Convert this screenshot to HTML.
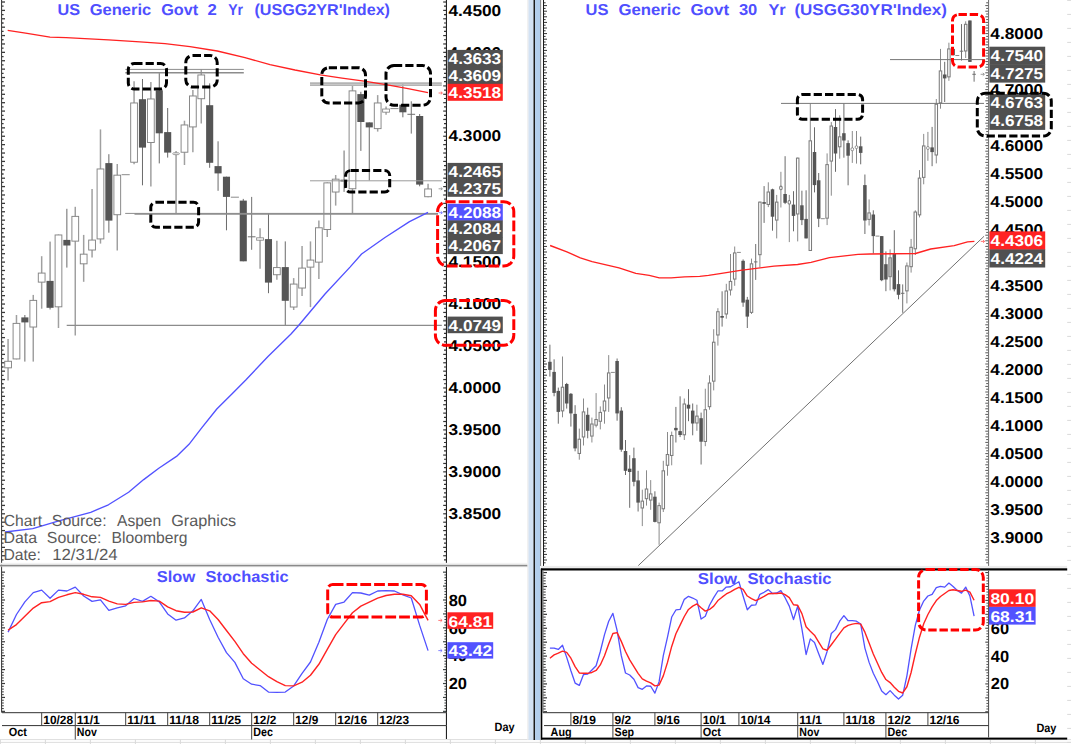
<!DOCTYPE html>
<html><head><meta charset="utf-8"><title>US Generic Govt 2 Yr / 30 Yr</title>
<style>html,body{margin:0;padding:0;background:#fff}svg{display:block}</style></head>
<body>
<svg width="1071" height="744" viewBox="0 0 1071 744" text-rendering="geometricPrecision" font-family="Liberation Sans, Arial, sans-serif">
<rect x="0" y="0" width="1071" height="744" fill="#ffffff" />
<line x1="0" y1="739.6" x2="1071" y2="739.6" stroke="#d9d9d9" stroke-width="0.9" />
<line x1="0" y1="742.4" x2="1071" y2="742.4" stroke="#d9d9d9" stroke-width="0.9" />
<line x1="0.4" y1="739.6" x2="0.4" y2="744" stroke="#d9d9d9" stroke-width="1" />
<line x1="45.4" y1="739.6" x2="45.4" y2="744" stroke="#d9d9d9" stroke-width="1" />
<line x1="90.4" y1="739.6" x2="90.4" y2="744" stroke="#d9d9d9" stroke-width="1" />
<line x1="135.4" y1="739.6" x2="135.4" y2="744" stroke="#d9d9d9" stroke-width="1" />
<line x1="180.4" y1="739.6" x2="180.4" y2="744" stroke="#d9d9d9" stroke-width="1" />
<line x1="225.4" y1="739.6" x2="225.4" y2="744" stroke="#d9d9d9" stroke-width="1" />
<line x1="270.4" y1="739.6" x2="270.4" y2="744" stroke="#d9d9d9" stroke-width="1" />
<line x1="315.4" y1="739.6" x2="315.4" y2="744" stroke="#d9d9d9" stroke-width="1" />
<line x1="360.4" y1="739.6" x2="360.4" y2="744" stroke="#d9d9d9" stroke-width="1" />
<line x1="405.4" y1="739.6" x2="405.4" y2="744" stroke="#d9d9d9" stroke-width="1" />
<line x1="450.4" y1="739.6" x2="450.4" y2="744" stroke="#d9d9d9" stroke-width="1" />
<line x1="495.4" y1="739.6" x2="495.4" y2="744" stroke="#d9d9d9" stroke-width="1" />
<line x1="540.4" y1="739.6" x2="540.4" y2="744" stroke="#d9d9d9" stroke-width="1" />
<line x1="585.4" y1="739.6" x2="585.4" y2="744" stroke="#d9d9d9" stroke-width="1" />
<line x1="630.4" y1="739.6" x2="630.4" y2="744" stroke="#d9d9d9" stroke-width="1" />
<line x1="675.4" y1="739.6" x2="675.4" y2="744" stroke="#d9d9d9" stroke-width="1" />
<line x1="720.4" y1="739.6" x2="720.4" y2="744" stroke="#d9d9d9" stroke-width="1" />
<line x1="765.4" y1="739.6" x2="765.4" y2="744" stroke="#d9d9d9" stroke-width="1" />
<line x1="810.4" y1="739.6" x2="810.4" y2="744" stroke="#d9d9d9" stroke-width="1" />
<line x1="855.4" y1="739.6" x2="855.4" y2="744" stroke="#d9d9d9" stroke-width="1" />
<line x1="900.4" y1="739.6" x2="900.4" y2="744" stroke="#d9d9d9" stroke-width="1" />
<line x1="945.4" y1="739.6" x2="945.4" y2="744" stroke="#d9d9d9" stroke-width="1" />
<line x1="990.4" y1="739.6" x2="990.4" y2="744" stroke="#d9d9d9" stroke-width="1" />
<line x1="1035.4" y1="739.6" x2="1035.4" y2="744" stroke="#d9d9d9" stroke-width="1" />
<line x1="1067.2" y1="0.4" x2="1071" y2="0.4" stroke="#d9d9d9" stroke-width="1" />
<line x1="1067.2" y1="14.4" x2="1071" y2="14.4" stroke="#d9d9d9" stroke-width="1" />
<line x1="1067.2" y1="28.4" x2="1071" y2="28.4" stroke="#d9d9d9" stroke-width="1" />
<line x1="1067.2" y1="42.4" x2="1071" y2="42.4" stroke="#d9d9d9" stroke-width="1" />
<line x1="1067.2" y1="56.4" x2="1071" y2="56.4" stroke="#d9d9d9" stroke-width="1" />
<line x1="1067.2" y1="70.4" x2="1071" y2="70.4" stroke="#d9d9d9" stroke-width="1" />
<line x1="1067.2" y1="84.4" x2="1071" y2="84.4" stroke="#d9d9d9" stroke-width="1" />
<line x1="1067.2" y1="98.4" x2="1071" y2="98.4" stroke="#d9d9d9" stroke-width="1" />
<line x1="1067.2" y1="112.4" x2="1071" y2="112.4" stroke="#d9d9d9" stroke-width="1" />
<line x1="1067.2" y1="126.4" x2="1071" y2="126.4" stroke="#d9d9d9" stroke-width="1" />
<line x1="1067.2" y1="140.4" x2="1071" y2="140.4" stroke="#d9d9d9" stroke-width="1" />
<line x1="1067.2" y1="154.4" x2="1071" y2="154.4" stroke="#d9d9d9" stroke-width="1" />
<line x1="1067.2" y1="168.4" x2="1071" y2="168.4" stroke="#d9d9d9" stroke-width="1" />
<line x1="1067.2" y1="182.4" x2="1071" y2="182.4" stroke="#d9d9d9" stroke-width="1" />
<line x1="1067.2" y1="196.4" x2="1071" y2="196.4" stroke="#d9d9d9" stroke-width="1" />
<line x1="1067.2" y1="210.4" x2="1071" y2="210.4" stroke="#d9d9d9" stroke-width="1" />
<line x1="1067.2" y1="224.4" x2="1071" y2="224.4" stroke="#d9d9d9" stroke-width="1" />
<line x1="1067.2" y1="238.4" x2="1071" y2="238.4" stroke="#d9d9d9" stroke-width="1" />
<line x1="1067.2" y1="252.4" x2="1071" y2="252.4" stroke="#d9d9d9" stroke-width="1" />
<line x1="1067.2" y1="266.4" x2="1071" y2="266.4" stroke="#d9d9d9" stroke-width="1" />
<line x1="1067.2" y1="280.4" x2="1071" y2="280.4" stroke="#d9d9d9" stroke-width="1" />
<line x1="1067.2" y1="294.4" x2="1071" y2="294.4" stroke="#d9d9d9" stroke-width="1" />
<line x1="1067.2" y1="308.4" x2="1071" y2="308.4" stroke="#d9d9d9" stroke-width="1" />
<line x1="1067.2" y1="322.4" x2="1071" y2="322.4" stroke="#d9d9d9" stroke-width="1" />
<line x1="1067.2" y1="336.4" x2="1071" y2="336.4" stroke="#d9d9d9" stroke-width="1" />
<line x1="1067.2" y1="350.4" x2="1071" y2="350.4" stroke="#d9d9d9" stroke-width="1" />
<line x1="1067.2" y1="364.4" x2="1071" y2="364.4" stroke="#d9d9d9" stroke-width="1" />
<line x1="1067.2" y1="378.4" x2="1071" y2="378.4" stroke="#d9d9d9" stroke-width="1" />
<line x1="1067.2" y1="392.4" x2="1071" y2="392.4" stroke="#d9d9d9" stroke-width="1" />
<line x1="1067.2" y1="406.4" x2="1071" y2="406.4" stroke="#d9d9d9" stroke-width="1" />
<line x1="1067.2" y1="420.4" x2="1071" y2="420.4" stroke="#d9d9d9" stroke-width="1" />
<line x1="1067.2" y1="434.4" x2="1071" y2="434.4" stroke="#d9d9d9" stroke-width="1" />
<line x1="1067.2" y1="448.4" x2="1071" y2="448.4" stroke="#d9d9d9" stroke-width="1" />
<line x1="1067.2" y1="462.4" x2="1071" y2="462.4" stroke="#d9d9d9" stroke-width="1" />
<line x1="1067.2" y1="476.4" x2="1071" y2="476.4" stroke="#d9d9d9" stroke-width="1" />
<line x1="1067.2" y1="490.4" x2="1071" y2="490.4" stroke="#d9d9d9" stroke-width="1" />
<line x1="1067.2" y1="504.4" x2="1071" y2="504.4" stroke="#d9d9d9" stroke-width="1" />
<line x1="1067.2" y1="518.4" x2="1071" y2="518.4" stroke="#d9d9d9" stroke-width="1" />
<line x1="1067.2" y1="532.4" x2="1071" y2="532.4" stroke="#d9d9d9" stroke-width="1" />
<line x1="1067.2" y1="546.4" x2="1071" y2="546.4" stroke="#d9d9d9" stroke-width="1" />
<line x1="1067.2" y1="560.4" x2="1071" y2="560.4" stroke="#d9d9d9" stroke-width="1" />
<line x1="1067.2" y1="574.4" x2="1071" y2="574.4" stroke="#d9d9d9" stroke-width="1" />
<line x1="1067.2" y1="588.4" x2="1071" y2="588.4" stroke="#d9d9d9" stroke-width="1" />
<line x1="1067.2" y1="602.4" x2="1071" y2="602.4" stroke="#d9d9d9" stroke-width="1" />
<line x1="1067.2" y1="616.4" x2="1071" y2="616.4" stroke="#d9d9d9" stroke-width="1" />
<line x1="1067.2" y1="630.4" x2="1071" y2="630.4" stroke="#d9d9d9" stroke-width="1" />
<line x1="1067.2" y1="644.4" x2="1071" y2="644.4" stroke="#d9d9d9" stroke-width="1" />
<line x1="1067.2" y1="658.4" x2="1071" y2="658.4" stroke="#d9d9d9" stroke-width="1" />
<line x1="1067.2" y1="672.4" x2="1071" y2="672.4" stroke="#d9d9d9" stroke-width="1" />
<line x1="1067.2" y1="686.4" x2="1071" y2="686.4" stroke="#d9d9d9" stroke-width="1" />
<line x1="1067.2" y1="700.4" x2="1071" y2="700.4" stroke="#d9d9d9" stroke-width="1" />
<line x1="1067.2" y1="714.4" x2="1071" y2="714.4" stroke="#d9d9d9" stroke-width="1" />
<line x1="1067.2" y1="728.4" x2="1071" y2="728.4" stroke="#d9d9d9" stroke-width="1" />
<line x1="1067.2" y1="742.4" x2="1071" y2="742.4" stroke="#d9d9d9" stroke-width="1" />
<rect x="527.3" y="0" width="1.3" height="740" fill="#ececec" />
<rect x="528.5" y="0" width="5" height="740" fill="#d3e2f3" />
<rect x="533.5" y="0" width="1.6" height="740" fill="#1a1a1a" />
<rect x="535.1" y="0" width="5.1" height="740" fill="#b2ceec" />
<rect x="540.2" y="0" width="0.9" height="566" fill="#777777" />
<rect x="1" y="0" width="1.1" height="712.6" fill="#444444" />
<line x1="2" y1="2.01" x2="5" y2="2.01" stroke="#3a3a3a" stroke-width="1.3" />
<line x1="443.2" y1="2.01" x2="446" y2="2.01" stroke="#333333" stroke-width="1.2" />
<line x1="2" y1="6.21" x2="3.6" y2="6.21" stroke="#3a3a3a" stroke-width="1.3" />
<line x1="444" y1="6.21" x2="446" y2="6.21" stroke="#333333" stroke-width="1.2" />
<line x1="2" y1="10.4" x2="5" y2="10.4" stroke="#3a3a3a" stroke-width="1.3" />
<line x1="443.2" y1="10.4" x2="446" y2="10.4" stroke="#333333" stroke-width="1.2" />
<line x1="2" y1="14.6" x2="3.6" y2="14.6" stroke="#3a3a3a" stroke-width="1.3" />
<line x1="444" y1="14.6" x2="446" y2="14.6" stroke="#333333" stroke-width="1.2" />
<line x1="2" y1="18.79" x2="5" y2="18.79" stroke="#3a3a3a" stroke-width="1.3" />
<line x1="443.2" y1="18.79" x2="446" y2="18.79" stroke="#333333" stroke-width="1.2" />
<line x1="2" y1="22.99" x2="3.6" y2="22.99" stroke="#3a3a3a" stroke-width="1.3" />
<line x1="444" y1="22.99" x2="446" y2="22.99" stroke="#333333" stroke-width="1.2" />
<line x1="2" y1="27.18" x2="5" y2="27.18" stroke="#3a3a3a" stroke-width="1.3" />
<line x1="443.2" y1="27.18" x2="446" y2="27.18" stroke="#333333" stroke-width="1.2" />
<line x1="2" y1="31.38" x2="3.6" y2="31.38" stroke="#3a3a3a" stroke-width="1.3" />
<line x1="444" y1="31.38" x2="446" y2="31.38" stroke="#333333" stroke-width="1.2" />
<line x1="2" y1="35.57" x2="5" y2="35.57" stroke="#3a3a3a" stroke-width="1.3" />
<line x1="443.2" y1="35.57" x2="446" y2="35.57" stroke="#333333" stroke-width="1.2" />
<line x1="2" y1="39.77" x2="3.6" y2="39.77" stroke="#3a3a3a" stroke-width="1.3" />
<line x1="444" y1="39.77" x2="446" y2="39.77" stroke="#333333" stroke-width="1.2" />
<line x1="2" y1="43.96" x2="5" y2="43.96" stroke="#3a3a3a" stroke-width="1.3" />
<line x1="443.2" y1="43.96" x2="446" y2="43.96" stroke="#333333" stroke-width="1.2" />
<line x1="2" y1="48.16" x2="3.6" y2="48.16" stroke="#3a3a3a" stroke-width="1.3" />
<line x1="444" y1="48.16" x2="446" y2="48.16" stroke="#333333" stroke-width="1.2" />
<line x1="2" y1="52.35" x2="5" y2="52.35" stroke="#3a3a3a" stroke-width="1.3" />
<line x1="443.2" y1="52.35" x2="446" y2="52.35" stroke="#333333" stroke-width="1.2" />
<line x1="2" y1="56.55" x2="3.6" y2="56.55" stroke="#3a3a3a" stroke-width="1.3" />
<line x1="444" y1="56.55" x2="446" y2="56.55" stroke="#333333" stroke-width="1.2" />
<line x1="2" y1="60.74" x2="5" y2="60.74" stroke="#3a3a3a" stroke-width="1.3" />
<line x1="443.2" y1="60.74" x2="446" y2="60.74" stroke="#333333" stroke-width="1.2" />
<line x1="2" y1="64.94" x2="3.6" y2="64.94" stroke="#3a3a3a" stroke-width="1.3" />
<line x1="444" y1="64.94" x2="446" y2="64.94" stroke="#333333" stroke-width="1.2" />
<line x1="2" y1="69.13" x2="5" y2="69.13" stroke="#3a3a3a" stroke-width="1.3" />
<line x1="443.2" y1="69.13" x2="446" y2="69.13" stroke="#333333" stroke-width="1.2" />
<line x1="2" y1="73.33" x2="3.6" y2="73.33" stroke="#3a3a3a" stroke-width="1.3" />
<line x1="444" y1="73.33" x2="446" y2="73.33" stroke="#333333" stroke-width="1.2" />
<line x1="2" y1="77.52" x2="5" y2="77.52" stroke="#3a3a3a" stroke-width="1.3" />
<line x1="443.2" y1="77.52" x2="446" y2="77.52" stroke="#333333" stroke-width="1.2" />
<line x1="2" y1="81.72" x2="3.6" y2="81.72" stroke="#3a3a3a" stroke-width="1.3" />
<line x1="444" y1="81.72" x2="446" y2="81.72" stroke="#333333" stroke-width="1.2" />
<line x1="2" y1="85.91" x2="5" y2="85.91" stroke="#3a3a3a" stroke-width="1.3" />
<line x1="443.2" y1="85.91" x2="446" y2="85.91" stroke="#333333" stroke-width="1.2" />
<line x1="2" y1="90.11" x2="3.6" y2="90.11" stroke="#3a3a3a" stroke-width="1.3" />
<line x1="444" y1="90.11" x2="446" y2="90.11" stroke="#333333" stroke-width="1.2" />
<line x1="2" y1="94.3" x2="5" y2="94.3" stroke="#3a3a3a" stroke-width="1.3" />
<line x1="443.2" y1="94.3" x2="446" y2="94.3" stroke="#333333" stroke-width="1.2" />
<line x1="2" y1="98.5" x2="3.6" y2="98.5" stroke="#3a3a3a" stroke-width="1.3" />
<line x1="444" y1="98.5" x2="446" y2="98.5" stroke="#333333" stroke-width="1.2" />
<line x1="2" y1="102.69" x2="5" y2="102.69" stroke="#3a3a3a" stroke-width="1.3" />
<line x1="443.2" y1="102.69" x2="446" y2="102.69" stroke="#333333" stroke-width="1.2" />
<line x1="2" y1="106.89" x2="3.6" y2="106.89" stroke="#3a3a3a" stroke-width="1.3" />
<line x1="444" y1="106.89" x2="446" y2="106.89" stroke="#333333" stroke-width="1.2" />
<line x1="2" y1="111.08" x2="5" y2="111.08" stroke="#3a3a3a" stroke-width="1.3" />
<line x1="443.2" y1="111.08" x2="446" y2="111.08" stroke="#333333" stroke-width="1.2" />
<line x1="2" y1="115.28" x2="3.6" y2="115.28" stroke="#3a3a3a" stroke-width="1.3" />
<line x1="444" y1="115.28" x2="446" y2="115.28" stroke="#333333" stroke-width="1.2" />
<line x1="2" y1="119.47" x2="5" y2="119.47" stroke="#3a3a3a" stroke-width="1.3" />
<line x1="443.2" y1="119.47" x2="446" y2="119.47" stroke="#333333" stroke-width="1.2" />
<line x1="2" y1="123.67" x2="3.6" y2="123.67" stroke="#3a3a3a" stroke-width="1.3" />
<line x1="444" y1="123.67" x2="446" y2="123.67" stroke="#333333" stroke-width="1.2" />
<line x1="2" y1="127.86" x2="5" y2="127.86" stroke="#3a3a3a" stroke-width="1.3" />
<line x1="443.2" y1="127.86" x2="446" y2="127.86" stroke="#333333" stroke-width="1.2" />
<line x1="2" y1="132.06" x2="3.6" y2="132.06" stroke="#3a3a3a" stroke-width="1.3" />
<line x1="444" y1="132.06" x2="446" y2="132.06" stroke="#333333" stroke-width="1.2" />
<line x1="2" y1="136.25" x2="5" y2="136.25" stroke="#3a3a3a" stroke-width="1.3" />
<line x1="443.2" y1="136.25" x2="446" y2="136.25" stroke="#333333" stroke-width="1.2" />
<line x1="2" y1="140.45" x2="3.6" y2="140.45" stroke="#3a3a3a" stroke-width="1.3" />
<line x1="444" y1="140.45" x2="446" y2="140.45" stroke="#333333" stroke-width="1.2" />
<line x1="2" y1="144.64" x2="5" y2="144.64" stroke="#3a3a3a" stroke-width="1.3" />
<line x1="443.2" y1="144.64" x2="446" y2="144.64" stroke="#333333" stroke-width="1.2" />
<line x1="2" y1="148.84" x2="3.6" y2="148.84" stroke="#3a3a3a" stroke-width="1.3" />
<line x1="444" y1="148.84" x2="446" y2="148.84" stroke="#333333" stroke-width="1.2" />
<line x1="2" y1="153.03" x2="5" y2="153.03" stroke="#3a3a3a" stroke-width="1.3" />
<line x1="443.2" y1="153.03" x2="446" y2="153.03" stroke="#333333" stroke-width="1.2" />
<line x1="2" y1="157.23" x2="3.6" y2="157.23" stroke="#3a3a3a" stroke-width="1.3" />
<line x1="444" y1="157.23" x2="446" y2="157.23" stroke="#333333" stroke-width="1.2" />
<line x1="2" y1="161.42" x2="5" y2="161.42" stroke="#3a3a3a" stroke-width="1.3" />
<line x1="443.2" y1="161.42" x2="446" y2="161.42" stroke="#333333" stroke-width="1.2" />
<line x1="2" y1="165.62" x2="3.6" y2="165.62" stroke="#3a3a3a" stroke-width="1.3" />
<line x1="444" y1="165.62" x2="446" y2="165.62" stroke="#333333" stroke-width="1.2" />
<line x1="2" y1="169.81" x2="5" y2="169.81" stroke="#3a3a3a" stroke-width="1.3" />
<line x1="443.2" y1="169.81" x2="446" y2="169.81" stroke="#333333" stroke-width="1.2" />
<line x1="2" y1="174.01" x2="3.6" y2="174.01" stroke="#3a3a3a" stroke-width="1.3" />
<line x1="444" y1="174.01" x2="446" y2="174.01" stroke="#333333" stroke-width="1.2" />
<line x1="2" y1="178.2" x2="5" y2="178.2" stroke="#3a3a3a" stroke-width="1.3" />
<line x1="443.2" y1="178.2" x2="446" y2="178.2" stroke="#333333" stroke-width="1.2" />
<line x1="2" y1="182.4" x2="3.6" y2="182.4" stroke="#3a3a3a" stroke-width="1.3" />
<line x1="444" y1="182.4" x2="446" y2="182.4" stroke="#333333" stroke-width="1.2" />
<line x1="2" y1="186.59" x2="5" y2="186.59" stroke="#3a3a3a" stroke-width="1.3" />
<line x1="443.2" y1="186.59" x2="446" y2="186.59" stroke="#333333" stroke-width="1.2" />
<line x1="2" y1="190.79" x2="3.6" y2="190.79" stroke="#3a3a3a" stroke-width="1.3" />
<line x1="444" y1="190.79" x2="446" y2="190.79" stroke="#333333" stroke-width="1.2" />
<line x1="2" y1="194.98" x2="5" y2="194.98" stroke="#3a3a3a" stroke-width="1.3" />
<line x1="443.2" y1="194.98" x2="446" y2="194.98" stroke="#333333" stroke-width="1.2" />
<line x1="2" y1="199.18" x2="3.6" y2="199.18" stroke="#3a3a3a" stroke-width="1.3" />
<line x1="444" y1="199.18" x2="446" y2="199.18" stroke="#333333" stroke-width="1.2" />
<line x1="2" y1="203.37" x2="5" y2="203.37" stroke="#3a3a3a" stroke-width="1.3" />
<line x1="443.2" y1="203.37" x2="446" y2="203.37" stroke="#333333" stroke-width="1.2" />
<line x1="2" y1="207.57" x2="3.6" y2="207.57" stroke="#3a3a3a" stroke-width="1.3" />
<line x1="444" y1="207.57" x2="446" y2="207.57" stroke="#333333" stroke-width="1.2" />
<line x1="2" y1="211.76" x2="5" y2="211.76" stroke="#3a3a3a" stroke-width="1.3" />
<line x1="443.2" y1="211.76" x2="446" y2="211.76" stroke="#333333" stroke-width="1.2" />
<line x1="2" y1="215.96" x2="3.6" y2="215.96" stroke="#3a3a3a" stroke-width="1.3" />
<line x1="444" y1="215.96" x2="446" y2="215.96" stroke="#333333" stroke-width="1.2" />
<line x1="2" y1="220.15" x2="5" y2="220.15" stroke="#3a3a3a" stroke-width="1.3" />
<line x1="443.2" y1="220.15" x2="446" y2="220.15" stroke="#333333" stroke-width="1.2" />
<line x1="2" y1="224.35" x2="3.6" y2="224.35" stroke="#3a3a3a" stroke-width="1.3" />
<line x1="444" y1="224.35" x2="446" y2="224.35" stroke="#333333" stroke-width="1.2" />
<line x1="2" y1="228.54" x2="5" y2="228.54" stroke="#3a3a3a" stroke-width="1.3" />
<line x1="443.2" y1="228.54" x2="446" y2="228.54" stroke="#333333" stroke-width="1.2" />
<line x1="2" y1="232.74" x2="3.6" y2="232.74" stroke="#3a3a3a" stroke-width="1.3" />
<line x1="444" y1="232.74" x2="446" y2="232.74" stroke="#333333" stroke-width="1.2" />
<line x1="2" y1="236.93" x2="5" y2="236.93" stroke="#3a3a3a" stroke-width="1.3" />
<line x1="443.2" y1="236.93" x2="446" y2="236.93" stroke="#333333" stroke-width="1.2" />
<line x1="2" y1="241.13" x2="3.6" y2="241.13" stroke="#3a3a3a" stroke-width="1.3" />
<line x1="444" y1="241.13" x2="446" y2="241.13" stroke="#333333" stroke-width="1.2" />
<line x1="2" y1="245.32" x2="5" y2="245.32" stroke="#3a3a3a" stroke-width="1.3" />
<line x1="443.2" y1="245.32" x2="446" y2="245.32" stroke="#333333" stroke-width="1.2" />
<line x1="2" y1="249.52" x2="3.6" y2="249.52" stroke="#3a3a3a" stroke-width="1.3" />
<line x1="444" y1="249.52" x2="446" y2="249.52" stroke="#333333" stroke-width="1.2" />
<line x1="2" y1="253.71" x2="5" y2="253.71" stroke="#3a3a3a" stroke-width="1.3" />
<line x1="443.2" y1="253.71" x2="446" y2="253.71" stroke="#333333" stroke-width="1.2" />
<line x1="2" y1="257.91" x2="3.6" y2="257.91" stroke="#3a3a3a" stroke-width="1.3" />
<line x1="444" y1="257.91" x2="446" y2="257.91" stroke="#333333" stroke-width="1.2" />
<line x1="2" y1="262.1" x2="5" y2="262.1" stroke="#3a3a3a" stroke-width="1.3" />
<line x1="443.2" y1="262.1" x2="446" y2="262.1" stroke="#333333" stroke-width="1.2" />
<line x1="2" y1="266.3" x2="3.6" y2="266.3" stroke="#3a3a3a" stroke-width="1.3" />
<line x1="444" y1="266.3" x2="446" y2="266.3" stroke="#333333" stroke-width="1.2" />
<line x1="2" y1="270.49" x2="5" y2="270.49" stroke="#3a3a3a" stroke-width="1.3" />
<line x1="443.2" y1="270.49" x2="446" y2="270.49" stroke="#333333" stroke-width="1.2" />
<line x1="2" y1="274.69" x2="3.6" y2="274.69" stroke="#3a3a3a" stroke-width="1.3" />
<line x1="444" y1="274.69" x2="446" y2="274.69" stroke="#333333" stroke-width="1.2" />
<line x1="2" y1="278.88" x2="5" y2="278.88" stroke="#3a3a3a" stroke-width="1.3" />
<line x1="443.2" y1="278.88" x2="446" y2="278.88" stroke="#333333" stroke-width="1.2" />
<line x1="2" y1="283.08" x2="3.6" y2="283.08" stroke="#3a3a3a" stroke-width="1.3" />
<line x1="444" y1="283.08" x2="446" y2="283.08" stroke="#333333" stroke-width="1.2" />
<line x1="2" y1="287.27" x2="5" y2="287.27" stroke="#3a3a3a" stroke-width="1.3" />
<line x1="443.2" y1="287.27" x2="446" y2="287.27" stroke="#333333" stroke-width="1.2" />
<line x1="2" y1="291.46" x2="3.6" y2="291.46" stroke="#3a3a3a" stroke-width="1.3" />
<line x1="444" y1="291.46" x2="446" y2="291.46" stroke="#333333" stroke-width="1.2" />
<line x1="2" y1="295.66" x2="5" y2="295.66" stroke="#3a3a3a" stroke-width="1.3" />
<line x1="443.2" y1="295.66" x2="446" y2="295.66" stroke="#333333" stroke-width="1.2" />
<line x1="2" y1="299.86" x2="3.6" y2="299.86" stroke="#3a3a3a" stroke-width="1.3" />
<line x1="444" y1="299.86" x2="446" y2="299.86" stroke="#333333" stroke-width="1.2" />
<line x1="2" y1="304.05" x2="5" y2="304.05" stroke="#3a3a3a" stroke-width="1.3" />
<line x1="443.2" y1="304.05" x2="446" y2="304.05" stroke="#333333" stroke-width="1.2" />
<line x1="2" y1="308.25" x2="3.6" y2="308.25" stroke="#3a3a3a" stroke-width="1.3" />
<line x1="444" y1="308.25" x2="446" y2="308.25" stroke="#333333" stroke-width="1.2" />
<line x1="2" y1="312.44" x2="5" y2="312.44" stroke="#3a3a3a" stroke-width="1.3" />
<line x1="443.2" y1="312.44" x2="446" y2="312.44" stroke="#333333" stroke-width="1.2" />
<line x1="2" y1="316.64" x2="3.6" y2="316.64" stroke="#3a3a3a" stroke-width="1.3" />
<line x1="444" y1="316.64" x2="446" y2="316.64" stroke="#333333" stroke-width="1.2" />
<line x1="2" y1="320.83" x2="5" y2="320.83" stroke="#3a3a3a" stroke-width="1.3" />
<line x1="443.2" y1="320.83" x2="446" y2="320.83" stroke="#333333" stroke-width="1.2" />
<line x1="2" y1="325.03" x2="3.6" y2="325.03" stroke="#3a3a3a" stroke-width="1.3" />
<line x1="444" y1="325.03" x2="446" y2="325.03" stroke="#333333" stroke-width="1.2" />
<line x1="2" y1="329.22" x2="5" y2="329.22" stroke="#3a3a3a" stroke-width="1.3" />
<line x1="443.2" y1="329.22" x2="446" y2="329.22" stroke="#333333" stroke-width="1.2" />
<line x1="2" y1="333.42" x2="3.6" y2="333.42" stroke="#3a3a3a" stroke-width="1.3" />
<line x1="444" y1="333.42" x2="446" y2="333.42" stroke="#333333" stroke-width="1.2" />
<line x1="2" y1="337.61" x2="5" y2="337.61" stroke="#3a3a3a" stroke-width="1.3" />
<line x1="443.2" y1="337.61" x2="446" y2="337.61" stroke="#333333" stroke-width="1.2" />
<line x1="2" y1="341.81" x2="3.6" y2="341.81" stroke="#3a3a3a" stroke-width="1.3" />
<line x1="444" y1="341.81" x2="446" y2="341.81" stroke="#333333" stroke-width="1.2" />
<line x1="2" y1="346" x2="5" y2="346" stroke="#3a3a3a" stroke-width="1.3" />
<line x1="443.2" y1="346" x2="446" y2="346" stroke="#333333" stroke-width="1.2" />
<line x1="2" y1="350.2" x2="3.6" y2="350.2" stroke="#3a3a3a" stroke-width="1.3" />
<line x1="444" y1="350.2" x2="446" y2="350.2" stroke="#333333" stroke-width="1.2" />
<line x1="2" y1="354.39" x2="5" y2="354.39" stroke="#3a3a3a" stroke-width="1.3" />
<line x1="443.2" y1="354.39" x2="446" y2="354.39" stroke="#333333" stroke-width="1.2" />
<line x1="2" y1="358.58" x2="3.6" y2="358.58" stroke="#3a3a3a" stroke-width="1.3" />
<line x1="444" y1="358.58" x2="446" y2="358.58" stroke="#333333" stroke-width="1.2" />
<line x1="2" y1="362.78" x2="5" y2="362.78" stroke="#3a3a3a" stroke-width="1.3" />
<line x1="443.2" y1="362.78" x2="446" y2="362.78" stroke="#333333" stroke-width="1.2" />
<line x1="2" y1="366.98" x2="3.6" y2="366.98" stroke="#3a3a3a" stroke-width="1.3" />
<line x1="444" y1="366.98" x2="446" y2="366.98" stroke="#333333" stroke-width="1.2" />
<line x1="2" y1="371.17" x2="5" y2="371.17" stroke="#3a3a3a" stroke-width="1.3" />
<line x1="443.2" y1="371.17" x2="446" y2="371.17" stroke="#333333" stroke-width="1.2" />
<line x1="2" y1="375.37" x2="3.6" y2="375.37" stroke="#3a3a3a" stroke-width="1.3" />
<line x1="444" y1="375.37" x2="446" y2="375.37" stroke="#333333" stroke-width="1.2" />
<line x1="2" y1="379.56" x2="5" y2="379.56" stroke="#3a3a3a" stroke-width="1.3" />
<line x1="443.2" y1="379.56" x2="446" y2="379.56" stroke="#333333" stroke-width="1.2" />
<line x1="2" y1="383.76" x2="3.6" y2="383.76" stroke="#3a3a3a" stroke-width="1.3" />
<line x1="444" y1="383.76" x2="446" y2="383.76" stroke="#333333" stroke-width="1.2" />
<line x1="2" y1="387.95" x2="5" y2="387.95" stroke="#3a3a3a" stroke-width="1.3" />
<line x1="443.2" y1="387.95" x2="446" y2="387.95" stroke="#333333" stroke-width="1.2" />
<line x1="2" y1="392.15" x2="3.6" y2="392.15" stroke="#3a3a3a" stroke-width="1.3" />
<line x1="444" y1="392.15" x2="446" y2="392.15" stroke="#333333" stroke-width="1.2" />
<line x1="2" y1="396.34" x2="5" y2="396.34" stroke="#3a3a3a" stroke-width="1.3" />
<line x1="443.2" y1="396.34" x2="446" y2="396.34" stroke="#333333" stroke-width="1.2" />
<line x1="2" y1="400.54" x2="3.6" y2="400.54" stroke="#3a3a3a" stroke-width="1.3" />
<line x1="444" y1="400.54" x2="446" y2="400.54" stroke="#333333" stroke-width="1.2" />
<line x1="2" y1="404.73" x2="5" y2="404.73" stroke="#3a3a3a" stroke-width="1.3" />
<line x1="443.2" y1="404.73" x2="446" y2="404.73" stroke="#333333" stroke-width="1.2" />
<line x1="2" y1="408.93" x2="3.6" y2="408.93" stroke="#3a3a3a" stroke-width="1.3" />
<line x1="444" y1="408.93" x2="446" y2="408.93" stroke="#333333" stroke-width="1.2" />
<line x1="2" y1="413.12" x2="5" y2="413.12" stroke="#3a3a3a" stroke-width="1.3" />
<line x1="443.2" y1="413.12" x2="446" y2="413.12" stroke="#333333" stroke-width="1.2" />
<line x1="2" y1="417.32" x2="3.6" y2="417.32" stroke="#3a3a3a" stroke-width="1.3" />
<line x1="444" y1="417.32" x2="446" y2="417.32" stroke="#333333" stroke-width="1.2" />
<line x1="2" y1="421.51" x2="5" y2="421.51" stroke="#3a3a3a" stroke-width="1.3" />
<line x1="443.2" y1="421.51" x2="446" y2="421.51" stroke="#333333" stroke-width="1.2" />
<line x1="2" y1="425.71" x2="3.6" y2="425.71" stroke="#3a3a3a" stroke-width="1.3" />
<line x1="444" y1="425.71" x2="446" y2="425.71" stroke="#333333" stroke-width="1.2" />
<line x1="2" y1="429.9" x2="5" y2="429.9" stroke="#3a3a3a" stroke-width="1.3" />
<line x1="443.2" y1="429.9" x2="446" y2="429.9" stroke="#333333" stroke-width="1.2" />
<line x1="2" y1="434.1" x2="3.6" y2="434.1" stroke="#3a3a3a" stroke-width="1.3" />
<line x1="444" y1="434.1" x2="446" y2="434.1" stroke="#333333" stroke-width="1.2" />
<line x1="2" y1="438.29" x2="5" y2="438.29" stroke="#3a3a3a" stroke-width="1.3" />
<line x1="443.2" y1="438.29" x2="446" y2="438.29" stroke="#333333" stroke-width="1.2" />
<line x1="2" y1="442.49" x2="3.6" y2="442.49" stroke="#3a3a3a" stroke-width="1.3" />
<line x1="444" y1="442.49" x2="446" y2="442.49" stroke="#333333" stroke-width="1.2" />
<line x1="2" y1="446.68" x2="5" y2="446.68" stroke="#3a3a3a" stroke-width="1.3" />
<line x1="443.2" y1="446.68" x2="446" y2="446.68" stroke="#333333" stroke-width="1.2" />
<line x1="2" y1="450.88" x2="3.6" y2="450.88" stroke="#3a3a3a" stroke-width="1.3" />
<line x1="444" y1="450.88" x2="446" y2="450.88" stroke="#333333" stroke-width="1.2" />
<line x1="2" y1="455.07" x2="5" y2="455.07" stroke="#3a3a3a" stroke-width="1.3" />
<line x1="443.2" y1="455.07" x2="446" y2="455.07" stroke="#333333" stroke-width="1.2" />
<line x1="2" y1="459.27" x2="3.6" y2="459.27" stroke="#3a3a3a" stroke-width="1.3" />
<line x1="444" y1="459.27" x2="446" y2="459.27" stroke="#333333" stroke-width="1.2" />
<line x1="2" y1="463.46" x2="5" y2="463.46" stroke="#3a3a3a" stroke-width="1.3" />
<line x1="443.2" y1="463.46" x2="446" y2="463.46" stroke="#333333" stroke-width="1.2" />
<line x1="2" y1="467.66" x2="3.6" y2="467.66" stroke="#3a3a3a" stroke-width="1.3" />
<line x1="444" y1="467.66" x2="446" y2="467.66" stroke="#333333" stroke-width="1.2" />
<line x1="2" y1="471.85" x2="5" y2="471.85" stroke="#3a3a3a" stroke-width="1.3" />
<line x1="443.2" y1="471.85" x2="446" y2="471.85" stroke="#333333" stroke-width="1.2" />
<line x1="2" y1="476.05" x2="3.6" y2="476.05" stroke="#3a3a3a" stroke-width="1.3" />
<line x1="444" y1="476.05" x2="446" y2="476.05" stroke="#333333" stroke-width="1.2" />
<line x1="2" y1="480.24" x2="5" y2="480.24" stroke="#3a3a3a" stroke-width="1.3" />
<line x1="443.2" y1="480.24" x2="446" y2="480.24" stroke="#333333" stroke-width="1.2" />
<line x1="2" y1="484.44" x2="3.6" y2="484.44" stroke="#3a3a3a" stroke-width="1.3" />
<line x1="444" y1="484.44" x2="446" y2="484.44" stroke="#333333" stroke-width="1.2" />
<line x1="2" y1="488.63" x2="5" y2="488.63" stroke="#3a3a3a" stroke-width="1.3" />
<line x1="443.2" y1="488.63" x2="446" y2="488.63" stroke="#333333" stroke-width="1.2" />
<line x1="2" y1="492.83" x2="3.6" y2="492.83" stroke="#3a3a3a" stroke-width="1.3" />
<line x1="444" y1="492.83" x2="446" y2="492.83" stroke="#333333" stroke-width="1.2" />
<line x1="2" y1="497.02" x2="5" y2="497.02" stroke="#3a3a3a" stroke-width="1.3" />
<line x1="443.2" y1="497.02" x2="446" y2="497.02" stroke="#333333" stroke-width="1.2" />
<line x1="2" y1="501.22" x2="3.6" y2="501.22" stroke="#3a3a3a" stroke-width="1.3" />
<line x1="444" y1="501.22" x2="446" y2="501.22" stroke="#333333" stroke-width="1.2" />
<line x1="2" y1="505.41" x2="5" y2="505.41" stroke="#3a3a3a" stroke-width="1.3" />
<line x1="443.2" y1="505.41" x2="446" y2="505.41" stroke="#333333" stroke-width="1.2" />
<line x1="2" y1="509.61" x2="3.6" y2="509.61" stroke="#3a3a3a" stroke-width="1.3" />
<line x1="444" y1="509.61" x2="446" y2="509.61" stroke="#333333" stroke-width="1.2" />
<line x1="2" y1="513.8" x2="5" y2="513.8" stroke="#3a3a3a" stroke-width="1.3" />
<line x1="443.2" y1="513.8" x2="446" y2="513.8" stroke="#333333" stroke-width="1.2" />
<line x1="2" y1="518" x2="3.6" y2="518" stroke="#3a3a3a" stroke-width="1.3" />
<line x1="444" y1="518" x2="446" y2="518" stroke="#333333" stroke-width="1.2" />
<line x1="2" y1="522.19" x2="5" y2="522.19" stroke="#3a3a3a" stroke-width="1.3" />
<line x1="443.2" y1="522.19" x2="446" y2="522.19" stroke="#333333" stroke-width="1.2" />
<line x1="2" y1="526.39" x2="3.6" y2="526.39" stroke="#3a3a3a" stroke-width="1.3" />
<line x1="444" y1="526.39" x2="446" y2="526.39" stroke="#333333" stroke-width="1.2" />
<line x1="2" y1="530.58" x2="5" y2="530.58" stroke="#3a3a3a" stroke-width="1.3" />
<line x1="443.2" y1="530.58" x2="446" y2="530.58" stroke="#333333" stroke-width="1.2" />
<line x1="2" y1="534.78" x2="3.6" y2="534.78" stroke="#3a3a3a" stroke-width="1.3" />
<line x1="444" y1="534.78" x2="446" y2="534.78" stroke="#333333" stroke-width="1.2" />
<line x1="2" y1="538.97" x2="5" y2="538.97" stroke="#3a3a3a" stroke-width="1.3" />
<line x1="443.2" y1="538.97" x2="446" y2="538.97" stroke="#333333" stroke-width="1.2" />
<line x1="2" y1="543.17" x2="3.6" y2="543.17" stroke="#3a3a3a" stroke-width="1.3" />
<line x1="444" y1="543.17" x2="446" y2="543.17" stroke="#333333" stroke-width="1.2" />
<line x1="2" y1="547.36" x2="5" y2="547.36" stroke="#3a3a3a" stroke-width="1.3" />
<line x1="443.2" y1="547.36" x2="446" y2="547.36" stroke="#333333" stroke-width="1.2" />
<line x1="2" y1="551.56" x2="3.6" y2="551.56" stroke="#3a3a3a" stroke-width="1.3" />
<line x1="444" y1="551.56" x2="446" y2="551.56" stroke="#333333" stroke-width="1.2" />
<line x1="2" y1="555.75" x2="5" y2="555.75" stroke="#3a3a3a" stroke-width="1.3" />
<line x1="443.2" y1="555.75" x2="446" y2="555.75" stroke="#333333" stroke-width="1.2" />
<line x1="2" y1="559.95" x2="3.6" y2="559.95" stroke="#3a3a3a" stroke-width="1.3" />
<line x1="444" y1="559.95" x2="446" y2="559.95" stroke="#333333" stroke-width="1.2" />
<rect x="445.9" y="0" width="1.1" height="563.5" fill="#222222" />
<rect x="0" y="562.8" width="527.3" height="2" fill="#f2f2f2" />
<rect x="0" y="564.8" width="527.3" height="1.7" fill="#8a8a8a" />
<rect x="0" y="566.5" width="527.3" height="0.6" fill="#d0d0d0" />
<line x1="8.07" y1="338.9" x2="8.07" y2="380.6" stroke="#a0a0a0" stroke-width="1.5" />
<rect x="4.7" y="361.28" width="6.75" height="6.55" fill="#ffffff" stroke="#848484" stroke-width="0.95" />
<line x1="16.47" y1="315" x2="16.47" y2="359.4" stroke="#a0a0a0" stroke-width="1.5" />
<rect x="13.09" y="323.38" width="6.75" height="35.55" fill="#ffffff" stroke="#848484" stroke-width="0.95" />
<line x1="24.87" y1="315" x2="24.87" y2="361.6" stroke="#6a6a6a" stroke-width="1" />
<rect x="21.32" y="317.4" width="7.1" height="5" fill="#555555" />
<line x1="33.27" y1="294.9" x2="33.27" y2="361.6" stroke="#a0a0a0" stroke-width="1.5" />
<rect x="29.9" y="300.38" width="6.75" height="26.65" fill="#ffffff" stroke="#848484" stroke-width="0.95" />
<line x1="41.67" y1="256.2" x2="41.67" y2="308.7" stroke="#a0a0a0" stroke-width="1.5" />
<rect x="38.3" y="273.08" width="6.75" height="9.05" fill="#ffffff" stroke="#848484" stroke-width="0.95" />
<line x1="50.07" y1="241.6" x2="50.07" y2="309.5" stroke="#6a6a6a" stroke-width="1" />
<rect x="46.52" y="280.9" width="7.1" height="26.9" fill="#555555" />
<line x1="58.47" y1="234.5" x2="58.47" y2="328" stroke="#a0a0a0" stroke-width="1.5" />
<rect x="55.1" y="234.97" width="6.75" height="71.85" fill="#ffffff" stroke="#848484" stroke-width="0.95" />
<line x1="66.87" y1="208.8" x2="66.87" y2="267.6" stroke="#6a6a6a" stroke-width="1" />
<rect x="63.32" y="239.9" width="7.1" height="5.6" fill="#555555" />
<line x1="75.27" y1="206.8" x2="75.27" y2="335.5" stroke="#a0a0a0" stroke-width="1.5" />
<rect x="71.9" y="216.38" width="6.75" height="24.75" fill="#ffffff" stroke="#848484" stroke-width="0.95" />
<line x1="83.67" y1="234.9" x2="83.67" y2="281.8" stroke="#a0a0a0" stroke-width="1.5" />
<rect x="80.3" y="254.17" width="6.75" height="9.65" fill="#ffffff" stroke="#848484" stroke-width="0.95" />
<line x1="92.07" y1="189" x2="92.07" y2="257.6" stroke="#a0a0a0" stroke-width="1.5" />
<rect x="88.69" y="240.07" width="6.75" height="9.95" fill="#ffffff" stroke="#848484" stroke-width="0.95" />
<line x1="100.47" y1="129.4" x2="100.47" y2="243.6" stroke="#a0a0a0" stroke-width="1.5" />
<rect x="97.09" y="168.97" width="6.75" height="69.95" fill="#ffffff" stroke="#848484" stroke-width="0.95" />
<line x1="108.87" y1="154.2" x2="108.87" y2="232.7" stroke="#6a6a6a" stroke-width="1" />
<rect x="105.32" y="163.1" width="7.1" height="57.5" fill="#555555" />
<line x1="117.27" y1="164" x2="117.27" y2="250.5" stroke="#a0a0a0" stroke-width="1.5" />
<rect x="113.9" y="175.17" width="6.75" height="39.55" fill="#ffffff" stroke="#848484" stroke-width="0.95" />
<line x1="121.62" y1="174.7" x2="129.72" y2="174.7" stroke="#8a8a8a" stroke-width="1" />
<line x1="134.07" y1="81.2" x2="134.07" y2="164.3" stroke="#a0a0a0" stroke-width="1.5" />
<rect x="130.69" y="102.97" width="6.75" height="59.25" fill="#ffffff" stroke="#848484" stroke-width="0.95" />
<line x1="142.47" y1="79" x2="142.47" y2="185.3" stroke="#6a6a6a" stroke-width="1" />
<rect x="138.92" y="99.2" width="7.1" height="48.4" fill="#555555" />
<line x1="150.87" y1="82" x2="150.87" y2="186.5" stroke="#a0a0a0" stroke-width="1.5" />
<rect x="147.5" y="98.97" width="6.75" height="43.55" fill="#ffffff" stroke="#848484" stroke-width="0.95" />
<line x1="159.27" y1="73.1" x2="159.27" y2="163.4" stroke="#6a6a6a" stroke-width="1" />
<rect x="155.72" y="90.4" width="7.1" height="42.9" fill="#555555" />
<line x1="167.67" y1="108" x2="167.67" y2="157.6" stroke="#6a6a6a" stroke-width="1" />
<rect x="164.12" y="132.1" width="7.1" height="20.5" fill="#555555" />
<line x1="176.07" y1="151" x2="176.07" y2="213.2" stroke="#a0a0a0" stroke-width="1.5" />
<ellipse cx="176.07" cy="153.7" rx="3.45" ry="1.1" fill="#e8e8e8" stroke="#8a8a8a" stroke-width="0.8"/>
<line x1="184.47" y1="120.7" x2="184.47" y2="165" stroke="#a0a0a0" stroke-width="1.5" />
<rect x="181.09" y="124.97" width="6.75" height="27.25" fill="#ffffff" stroke="#848484" stroke-width="0.95" />
<line x1="192.87" y1="90" x2="192.87" y2="152.3" stroke="#a0a0a0" stroke-width="1.5" />
<rect x="189.5" y="95.97" width="6.75" height="30.95" fill="#ffffff" stroke="#848484" stroke-width="0.95" />
<line x1="201.27" y1="69.4" x2="201.27" y2="123.5" stroke="#a0a0a0" stroke-width="1.5" />
<rect x="197.9" y="74.97" width="6.75" height="23.75" fill="#ffffff" stroke="#848484" stroke-width="0.95" />
<line x1="209.67" y1="83.4" x2="209.67" y2="167.8" stroke="#6a6a6a" stroke-width="1" />
<rect x="206.12" y="105.2" width="7.1" height="57.6" fill="#555555" />
<line x1="218.07" y1="141.3" x2="218.07" y2="190.8" stroke="#6a6a6a" stroke-width="1" />
<rect x="214.52" y="166.1" width="7.1" height="7.3" fill="#555555" />
<line x1="226.47" y1="176.7" x2="226.47" y2="230.3" stroke="#6a6a6a" stroke-width="1" />
<rect x="222.92" y="176.7" width="7.1" height="20.2" fill="#555555" />
<line x1="230.82" y1="197.2" x2="238.92" y2="197.2" stroke="#8a8a8a" stroke-width="1" />
<line x1="243.27" y1="198.9" x2="243.27" y2="261.3" stroke="#6a6a6a" stroke-width="1" />
<rect x="239.72" y="200.6" width="7.1" height="60.7" fill="#555555" />
<line x1="251.67" y1="196.9" x2="251.67" y2="249.8" stroke="#707070" stroke-width="1" />
<line x1="247.82" y1="236.8" x2="255.52" y2="236.8" stroke="#707070" stroke-width="1" />
<line x1="260.07" y1="228.2" x2="260.07" y2="268.8" stroke="#a0a0a0" stroke-width="1.5" />
<rect x="256.64" y="237.83" width="6.85" height="2.35" fill="#ffffff" stroke="#848484" stroke-width="0.85" />
<line x1="268.47" y1="213.2" x2="268.47" y2="293.2" stroke="#6a6a6a" stroke-width="1" />
<rect x="264.92" y="239.1" width="7.1" height="43.5" fill="#555555" />
<line x1="276.87" y1="240.8" x2="276.87" y2="279.7" stroke="#a0a0a0" stroke-width="1.5" />
<rect x="273.5" y="267.58" width="6.75" height="7.15" fill="#ffffff" stroke="#848484" stroke-width="0.95" />
<line x1="285.27" y1="241.4" x2="285.27" y2="325.1" stroke="#6a6a6a" stroke-width="1" />
<rect x="281.72" y="267.1" width="7.1" height="33.7" fill="#555555" />
<line x1="293.67" y1="278.1" x2="293.67" y2="310" stroke="#a0a0a0" stroke-width="1.5" />
<rect x="290.3" y="284.08" width="6.75" height="22.95" fill="#ffffff" stroke="#848484" stroke-width="0.95" />
<line x1="302.07" y1="246.1" x2="302.07" y2="296" stroke="#a0a0a0" stroke-width="1.5" />
<rect x="298.69" y="268.08" width="6.75" height="19.95" fill="#ffffff" stroke="#848484" stroke-width="0.95" />
<line x1="310.47" y1="241.4" x2="310.47" y2="307.1" stroke="#a0a0a0" stroke-width="1.5" />
<rect x="307.1" y="260.08" width="6.75" height="7.05" fill="#ffffff" stroke="#848484" stroke-width="0.95" />
<line x1="318.87" y1="220.4" x2="318.87" y2="278.9" stroke="#a0a0a0" stroke-width="1.5" />
<rect x="315.5" y="227.78" width="6.75" height="34.35" fill="#ffffff" stroke="#848484" stroke-width="0.95" />
<line x1="327.27" y1="182.4" x2="327.27" y2="237" stroke="#a0a0a0" stroke-width="1.5" />
<rect x="323.89" y="182.88" width="6.75" height="46.65" fill="#ffffff" stroke="#848484" stroke-width="0.95" />
<line x1="335.67" y1="175" x2="335.67" y2="205.6" stroke="#a0a0a0" stroke-width="1.5" />
<rect x="332.3" y="179.17" width="6.75" height="12.85" fill="#ffffff" stroke="#848484" stroke-width="0.95" />
<line x1="344.07" y1="150.5" x2="344.07" y2="191.9" stroke="#6a6a6a" stroke-width="1" />
<rect x="340.52" y="179.7" width="7.1" height="1.8" fill="#555555" />
<line x1="352.47" y1="85" x2="352.47" y2="214" stroke="#a0a0a0" stroke-width="1.5" />
<rect x="349.1" y="90.88" width="6.75" height="97.85" fill="#ffffff" stroke="#848484" stroke-width="0.95" />
<line x1="360.87" y1="91.8" x2="360.87" y2="150.9" stroke="#6a6a6a" stroke-width="1" />
<rect x="357.32" y="94.1" width="7.1" height="27.9" fill="#555555" />
<line x1="369.27" y1="122.4" x2="369.27" y2="180.4" stroke="#6a6a6a" stroke-width="1" />
<rect x="365.72" y="122.4" width="7.1" height="5" fill="#555555" />
<line x1="377.67" y1="95.1" x2="377.67" y2="131.6" stroke="#a0a0a0" stroke-width="1.5" />
<rect x="374.3" y="102.97" width="6.75" height="25.65" fill="#ffffff" stroke="#848484" stroke-width="0.95" />
<line x1="386.07" y1="106.4" x2="386.07" y2="114.8" stroke="#a0a0a0" stroke-width="1.5" />
<rect x="382.64" y="109.02" width="6.85" height="3.15" fill="#ffffff" stroke="#848484" stroke-width="0.85" />
<line x1="390.42" y1="108.6" x2="398.52" y2="108.6" stroke="#8a8a8a" stroke-width="1" />
<line x1="402.87" y1="83.4" x2="402.87" y2="117.3" stroke="#6a6a6a" stroke-width="1" />
<rect x="399.32" y="104.7" width="7.1" height="7.6" fill="#555555" />
<line x1="411.27" y1="101.3" x2="411.27" y2="133.6" stroke="#707070" stroke-width="1" />
<line x1="407.42" y1="114.3" x2="415.12" y2="114.3" stroke="#707070" stroke-width="1" />
<line x1="419.67" y1="114" x2="419.67" y2="186.3" stroke="#6a6a6a" stroke-width="1" />
<rect x="416.12" y="116" width="7.1" height="68.6" fill="#555555" />
<line x1="428.07" y1="183.8" x2="428.07" y2="197.2" stroke="#a0a0a0" stroke-width="1.5" />
<rect x="424.69" y="188.97" width="6.75" height="7.75" fill="#ffffff" stroke="#848484" stroke-width="0.95" />
<line x1="125.3" y1="69.4" x2="243.8" y2="69.4" stroke="#8c8c8c" stroke-width="1" />
<line x1="125.3" y1="72.8" x2="243.8" y2="72.8" stroke="#8c8c8c" stroke-width="1.4" />
<line x1="310" y1="83.1" x2="441.8" y2="83.1" stroke="#b4b4b4" stroke-width="1.8" />
<line x1="310" y1="85.2" x2="441.8" y2="85.2" stroke="#b4b4b4" stroke-width="1.8" />
<line x1="310" y1="180.8" x2="441.8" y2="180.8" stroke="#9a9a9a" stroke-width="1" />
<line x1="125.2" y1="213.4" x2="438" y2="213.4" stroke="#8c8c8c" stroke-width="1" />
<line x1="134.5" y1="214" x2="438" y2="214" stroke="#8c8c8c" stroke-width="1.3" />
<line x1="66.7" y1="325.3" x2="441.8" y2="325.3" stroke="#8c8c8c" stroke-width="1.2" />
<polyline points="7.7,30.4 25.6,33.1 50,37.1 66.2,37.6 80,38.4 108.5,39.9 140,41.8 165,43.6 190,46.6 217.3,51 245,57.6 270,64.7 295,70 320.4,74.8 342,78.2 364.1,81.2 386,84.6 408,88.6 428,92.6" fill="none" stroke="#ff2222" stroke-width="1.35" stroke-linejoin="round" />
<polyline points="5,532 32.8,528.7 58,521.2 90.7,512.3 108.4,504.8 128.6,492.2 143.7,479.6 158.8,468.2 176.5,456.4 189,444.3 201.7,427.9 216.8,409 231.9,393.9 245.8,380 268,356.5 291,334 298.6,325.5 325,294 350,267.1 361.6,254 385,237.5 409.5,221.6 428,212.4" fill="none" stroke="#5252ff" stroke-width="1.35" stroke-linejoin="round" />
<text x="448.4" y="15.6" font-size="15.6" font-weight="bold" fill="#000000" textLength="52.8" lengthAdjust="spacingAndGlyphs" >4.4500</text>
<text x="448.4" y="57.55" font-size="15.6" font-weight="bold" fill="#000000" textLength="52.8" lengthAdjust="spacingAndGlyphs" >4.4000</text>
<text x="448.4" y="141.45" font-size="15.6" font-weight="bold" fill="#000000" textLength="52.8" lengthAdjust="spacingAndGlyphs" >4.3000</text>
<text x="448.4" y="267.3" font-size="15.6" font-weight="bold" fill="#000000" textLength="52.8" lengthAdjust="spacingAndGlyphs" >4.1500</text>
<text x="448.4" y="309.25" font-size="15.6" font-weight="bold" fill="#000000" textLength="52.8" lengthAdjust="spacingAndGlyphs" >4.1000</text>
<text x="448.4" y="351.2" font-size="15.6" font-weight="bold" fill="#000000" textLength="52.8" lengthAdjust="spacingAndGlyphs" >4.0500</text>
<text x="448.4" y="393.15" font-size="15.6" font-weight="bold" fill="#000000" textLength="52.8" lengthAdjust="spacingAndGlyphs" >4.0000</text>
<text x="448.4" y="435.1" font-size="15.6" font-weight="bold" fill="#000000" textLength="52.8" lengthAdjust="spacingAndGlyphs" >3.9500</text>
<text x="448.4" y="477.05" font-size="15.6" font-weight="bold" fill="#000000" textLength="52.8" lengthAdjust="spacingAndGlyphs" >3.9000</text>
<text x="448.4" y="519" font-size="15.6" font-weight="bold" fill="#000000" textLength="52.8" lengthAdjust="spacingAndGlyphs" >3.8500</text>
<rect x="447.5" y="49.9" width="55.3" height="17.3" fill="#505050" />
<text x="448.6" y="63.9" font-size="15.6" font-weight="bold" fill="#ffffff" textLength="52.5" lengthAdjust="spacingAndGlyphs" >4.3633</text>
<rect x="447.5" y="66.8" width="55.3" height="17.4" fill="#505050" />
<text x="448.6" y="80.8" font-size="15.6" font-weight="bold" fill="#ffffff" textLength="52.5" lengthAdjust="spacingAndGlyphs" >4.3609</text>
<rect x="447.5" y="83.8" width="55.3" height="17" fill="#ff2222" />
<text x="448.6" y="97.8" font-size="15.6" font-weight="bold" fill="#ffffff" textLength="52.5" lengthAdjust="spacingAndGlyphs" >4.3518</text>
<rect x="447.5" y="162.9" width="55.3" height="17.2" fill="#505050" />
<text x="448.6" y="176.9" font-size="15.6" font-weight="bold" fill="#ffffff" textLength="52.5" lengthAdjust="spacingAndGlyphs" >4.2465</text>
<rect x="447.5" y="179.7" width="55.3" height="17.1" fill="#505050" />
<text x="448.6" y="193.7" font-size="15.6" font-weight="bold" fill="#ffffff" textLength="52.5" lengthAdjust="spacingAndGlyphs" >4.2375</text>
<rect x="447.5" y="203.8" width="55.3" height="17" fill="#5252ff" />
<text x="448.6" y="217.8" font-size="15.6" font-weight="bold" fill="#ffffff" textLength="52.5" lengthAdjust="spacingAndGlyphs" >4.2088</text>
<rect x="447.5" y="220.4" width="55.3" height="17" fill="#505050" />
<text x="448.6" y="234.4" font-size="15.6" font-weight="bold" fill="#ffffff" textLength="52.5" lengthAdjust="spacingAndGlyphs" >4.2084</text>
<rect x="447.5" y="237" width="55.3" height="17.1" fill="#505050" />
<text x="448.6" y="251" font-size="15.6" font-weight="bold" fill="#ffffff" textLength="52.5" lengthAdjust="spacingAndGlyphs" >4.2067</text>
<rect x="447.5" y="316.6" width="55.3" height="16.6" fill="#505050" />
<text x="448.6" y="330.6" font-size="15.6" font-weight="bold" fill="#ffffff" textLength="52.5" lengthAdjust="spacingAndGlyphs" >4.0749</text>
<path d="M438.6 93H442.2M440.8 91.6L442.4 93L440.8 94.4" fill="none" stroke="#ff5555" stroke-width="0.8"/>
<path d="M438.6 188.8H442.2M440.8 187.4L442.4 188.8L440.8 190.2" fill="none" stroke="#888888" stroke-width="0.8"/>
<path d="M438.6 212.7H442.2M440.8 211.3L442.4 212.7L440.8 214.1" fill="none" stroke="#6666ff" stroke-width="0.8"/>
<rect x="128.3" y="63.5" width="38.2" height="25.5" rx="6" ry="6" fill="none" stroke="#000000" stroke-width="3" stroke-dasharray="8.2 3.1" stroke-dashoffset="0"/>
<rect x="185.8" y="55.6" width="31.4" height="31.4" rx="7" ry="7" fill="none" stroke="#000000" stroke-width="3" stroke-dasharray="8.2 3.1" stroke-dashoffset="0"/>
<rect x="150.8" y="202.3" width="47.8" height="24.9" rx="5" ry="5" fill="none" stroke="#000000" stroke-width="3" stroke-dasharray="8.2 3.1" stroke-dashoffset="0"/>
<rect x="321.8" y="67.7" width="43.7" height="35.3" rx="7" ry="7" fill="none" stroke="#000000" stroke-width="3" stroke-dasharray="8.2 3.1" stroke-dashoffset="0"/>
<rect x="386" y="65.5" width="44.5" height="39.7" rx="8" ry="8" fill="none" stroke="#000000" stroke-width="3" stroke-dasharray="8.2 3.1" stroke-dashoffset="0"/>
<rect x="345.6" y="170.6" width="44.1" height="21.5" rx="5" ry="5" fill="none" stroke="#000000" stroke-width="3" stroke-dasharray="8.2 3.1" stroke-dashoffset="0"/>
<rect x="437.6" y="201.7" width="76.2" height="64.3" rx="10" ry="10" fill="none" stroke="#ff0000" stroke-width="3" stroke-dasharray="10.8 3.1" stroke-dashoffset="2.8"/>
<rect x="435.4" y="300.4" width="78.4" height="44.9" rx="10" ry="10" fill="none" stroke="#ff0000" stroke-width="3" stroke-dasharray="10.8 3" stroke-dashoffset="0"/>
<text x="57.6" y="15.1" font-size="15.8" font-weight="bold" fill="#4f4fff" textLength="22.6" lengthAdjust="spacingAndGlyphs" >US</text>
<text x="89.7" y="15.1" font-size="15.8" font-weight="bold" fill="#4f4fff" textLength="61.6" lengthAdjust="spacingAndGlyphs" >Generic</text>
<text x="161.2" y="15.1" font-size="15.8" font-weight="bold" fill="#4f4fff" textLength="37.1" lengthAdjust="spacingAndGlyphs" >Govt</text>
<text x="207.6" y="15.1" font-size="15.8" font-weight="bold" fill="#4f4fff" textLength="9.3" lengthAdjust="spacingAndGlyphs" >2</text>
<text x="228.2" y="15.1" font-size="15.8" font-weight="bold" fill="#4f4fff" textLength="14.8" lengthAdjust="spacingAndGlyphs" >Yr</text>
<text x="254.4" y="15.1" font-size="15.8" font-weight="bold" fill="#4f4fff" textLength="135.6" lengthAdjust="spacingAndGlyphs" >(USGG2YR'Index)</text>
<text x="3.8" y="526" font-size="16" font-weight="normal" fill="#5a5a5a" textLength="38.2" lengthAdjust="spacingAndGlyphs" >Chart</text>
<text x="51.8" y="526" font-size="16" font-weight="normal" fill="#5a5a5a" textLength="54.8" lengthAdjust="spacingAndGlyphs" >Source:</text>
<text x="117" y="526" font-size="16" font-weight="normal" fill="#5a5a5a" textLength="44.2" lengthAdjust="spacingAndGlyphs" >Aspen</text>
<text x="171.2" y="526" font-size="16" font-weight="normal" fill="#5a5a5a" textLength="65" lengthAdjust="spacingAndGlyphs" >Graphics</text>
<text x="3.4" y="543.3" font-size="16" font-weight="normal" fill="#5a5a5a" textLength="33.6" lengthAdjust="spacingAndGlyphs" >Data</text>
<text x="46.8" y="543.3" font-size="16" font-weight="normal" fill="#5a5a5a" textLength="54.7" lengthAdjust="spacingAndGlyphs" >Source:</text>
<text x="111.6" y="543.3" font-size="16" font-weight="normal" fill="#5a5a5a" textLength="75.8" lengthAdjust="spacingAndGlyphs" >Bloomberg</text>
<text x="3.4" y="559.6" font-size="16" font-weight="normal" fill="#5a5a5a" textLength="37.6" lengthAdjust="spacingAndGlyphs" >Date:</text>
<text x="52.2" y="559.6" font-size="16" font-weight="normal" fill="#5a5a5a" textLength="65.4" lengthAdjust="spacingAndGlyphs" >12/31/24</text>
<line x1="443" y1="711.36" x2="446" y2="711.36" stroke="#3c4444" stroke-width="1.2" />
<line x1="2" y1="711.36" x2="5" y2="711.36" stroke="#3a3a3a" stroke-width="1.2" />
<line x1="444.4" y1="708.58" x2="446" y2="708.58" stroke="#3c4444" stroke-width="1" />
<line x1="2" y1="708.58" x2="3.8" y2="708.58" stroke="#3a3a3a" stroke-width="1" />
<line x1="444.4" y1="705.79" x2="446" y2="705.79" stroke="#3c4444" stroke-width="1" />
<line x1="2" y1="705.79" x2="3.8" y2="705.79" stroke="#3a3a3a" stroke-width="1" />
<line x1="444.4" y1="703.01" x2="446" y2="703.01" stroke="#3c4444" stroke-width="1" />
<line x1="2" y1="703.01" x2="3.8" y2="703.01" stroke="#3a3a3a" stroke-width="1" />
<line x1="444.4" y1="700.22" x2="446" y2="700.22" stroke="#3c4444" stroke-width="1" />
<line x1="2" y1="700.22" x2="3.8" y2="700.22" stroke="#3a3a3a" stroke-width="1" />
<line x1="443" y1="697.44" x2="446" y2="697.44" stroke="#3c4444" stroke-width="1.2" />
<line x1="2" y1="697.44" x2="5" y2="697.44" stroke="#3a3a3a" stroke-width="1.2" />
<line x1="444.4" y1="694.66" x2="446" y2="694.66" stroke="#3c4444" stroke-width="1" />
<line x1="2" y1="694.66" x2="3.8" y2="694.66" stroke="#3a3a3a" stroke-width="1" />
<line x1="444.4" y1="691.87" x2="446" y2="691.87" stroke="#3c4444" stroke-width="1" />
<line x1="2" y1="691.87" x2="3.8" y2="691.87" stroke="#3a3a3a" stroke-width="1" />
<line x1="444.4" y1="689.09" x2="446" y2="689.09" stroke="#3c4444" stroke-width="1" />
<line x1="2" y1="689.09" x2="3.8" y2="689.09" stroke="#3a3a3a" stroke-width="1" />
<line x1="444.4" y1="686.3" x2="446" y2="686.3" stroke="#3c4444" stroke-width="1" />
<line x1="2" y1="686.3" x2="3.8" y2="686.3" stroke="#3a3a3a" stroke-width="1" />
<line x1="443" y1="683.52" x2="446" y2="683.52" stroke="#3c4444" stroke-width="1.2" />
<line x1="2" y1="683.52" x2="5" y2="683.52" stroke="#3a3a3a" stroke-width="1.2" />
<line x1="444.4" y1="680.74" x2="446" y2="680.74" stroke="#3c4444" stroke-width="1" />
<line x1="2" y1="680.74" x2="3.8" y2="680.74" stroke="#3a3a3a" stroke-width="1" />
<line x1="444.4" y1="677.95" x2="446" y2="677.95" stroke="#3c4444" stroke-width="1" />
<line x1="2" y1="677.95" x2="3.8" y2="677.95" stroke="#3a3a3a" stroke-width="1" />
<line x1="444.4" y1="675.17" x2="446" y2="675.17" stroke="#3c4444" stroke-width="1" />
<line x1="2" y1="675.17" x2="3.8" y2="675.17" stroke="#3a3a3a" stroke-width="1" />
<line x1="444.4" y1="672.38" x2="446" y2="672.38" stroke="#3c4444" stroke-width="1" />
<line x1="2" y1="672.38" x2="3.8" y2="672.38" stroke="#3a3a3a" stroke-width="1" />
<line x1="443" y1="669.6" x2="446" y2="669.6" stroke="#3c4444" stroke-width="1.2" />
<line x1="2" y1="669.6" x2="5" y2="669.6" stroke="#3a3a3a" stroke-width="1.2" />
<line x1="444.4" y1="666.82" x2="446" y2="666.82" stroke="#3c4444" stroke-width="1" />
<line x1="2" y1="666.82" x2="3.8" y2="666.82" stroke="#3a3a3a" stroke-width="1" />
<line x1="444.4" y1="664.03" x2="446" y2="664.03" stroke="#3c4444" stroke-width="1" />
<line x1="2" y1="664.03" x2="3.8" y2="664.03" stroke="#3a3a3a" stroke-width="1" />
<line x1="444.4" y1="661.25" x2="446" y2="661.25" stroke="#3c4444" stroke-width="1" />
<line x1="2" y1="661.25" x2="3.8" y2="661.25" stroke="#3a3a3a" stroke-width="1" />
<line x1="444.4" y1="658.46" x2="446" y2="658.46" stroke="#3c4444" stroke-width="1" />
<line x1="2" y1="658.46" x2="3.8" y2="658.46" stroke="#3a3a3a" stroke-width="1" />
<line x1="443" y1="655.68" x2="446" y2="655.68" stroke="#3c4444" stroke-width="1.2" />
<line x1="2" y1="655.68" x2="5" y2="655.68" stroke="#3a3a3a" stroke-width="1.2" />
<line x1="444.4" y1="652.9" x2="446" y2="652.9" stroke="#3c4444" stroke-width="1" />
<line x1="2" y1="652.9" x2="3.8" y2="652.9" stroke="#3a3a3a" stroke-width="1" />
<line x1="444.4" y1="650.11" x2="446" y2="650.11" stroke="#3c4444" stroke-width="1" />
<line x1="2" y1="650.11" x2="3.8" y2="650.11" stroke="#3a3a3a" stroke-width="1" />
<line x1="444.4" y1="647.33" x2="446" y2="647.33" stroke="#3c4444" stroke-width="1" />
<line x1="2" y1="647.33" x2="3.8" y2="647.33" stroke="#3a3a3a" stroke-width="1" />
<line x1="444.4" y1="644.54" x2="446" y2="644.54" stroke="#3c4444" stroke-width="1" />
<line x1="2" y1="644.54" x2="3.8" y2="644.54" stroke="#3a3a3a" stroke-width="1" />
<line x1="443" y1="641.76" x2="446" y2="641.76" stroke="#3c4444" stroke-width="1.2" />
<line x1="2" y1="641.76" x2="5" y2="641.76" stroke="#3a3a3a" stroke-width="1.2" />
<line x1="444.4" y1="638.98" x2="446" y2="638.98" stroke="#3c4444" stroke-width="1" />
<line x1="2" y1="638.98" x2="3.8" y2="638.98" stroke="#3a3a3a" stroke-width="1" />
<line x1="444.4" y1="636.19" x2="446" y2="636.19" stroke="#3c4444" stroke-width="1" />
<line x1="2" y1="636.19" x2="3.8" y2="636.19" stroke="#3a3a3a" stroke-width="1" />
<line x1="444.4" y1="633.41" x2="446" y2="633.41" stroke="#3c4444" stroke-width="1" />
<line x1="2" y1="633.41" x2="3.8" y2="633.41" stroke="#3a3a3a" stroke-width="1" />
<line x1="444.4" y1="630.62" x2="446" y2="630.62" stroke="#3c4444" stroke-width="1" />
<line x1="2" y1="630.62" x2="3.8" y2="630.62" stroke="#3a3a3a" stroke-width="1" />
<line x1="443" y1="627.84" x2="446" y2="627.84" stroke="#3c4444" stroke-width="1.2" />
<line x1="2" y1="627.84" x2="5" y2="627.84" stroke="#3a3a3a" stroke-width="1.2" />
<line x1="444.4" y1="625.06" x2="446" y2="625.06" stroke="#3c4444" stroke-width="1" />
<line x1="2" y1="625.06" x2="3.8" y2="625.06" stroke="#3a3a3a" stroke-width="1" />
<line x1="444.4" y1="622.27" x2="446" y2="622.27" stroke="#3c4444" stroke-width="1" />
<line x1="2" y1="622.27" x2="3.8" y2="622.27" stroke="#3a3a3a" stroke-width="1" />
<line x1="444.4" y1="619.49" x2="446" y2="619.49" stroke="#3c4444" stroke-width="1" />
<line x1="2" y1="619.49" x2="3.8" y2="619.49" stroke="#3a3a3a" stroke-width="1" />
<line x1="444.4" y1="616.7" x2="446" y2="616.7" stroke="#3c4444" stroke-width="1" />
<line x1="2" y1="616.7" x2="3.8" y2="616.7" stroke="#3a3a3a" stroke-width="1" />
<line x1="443" y1="613.92" x2="446" y2="613.92" stroke="#3c4444" stroke-width="1.2" />
<line x1="2" y1="613.92" x2="5" y2="613.92" stroke="#3a3a3a" stroke-width="1.2" />
<line x1="444.4" y1="611.14" x2="446" y2="611.14" stroke="#3c4444" stroke-width="1" />
<line x1="2" y1="611.14" x2="3.8" y2="611.14" stroke="#3a3a3a" stroke-width="1" />
<line x1="444.4" y1="608.35" x2="446" y2="608.35" stroke="#3c4444" stroke-width="1" />
<line x1="2" y1="608.35" x2="3.8" y2="608.35" stroke="#3a3a3a" stroke-width="1" />
<line x1="444.4" y1="605.57" x2="446" y2="605.57" stroke="#3c4444" stroke-width="1" />
<line x1="2" y1="605.57" x2="3.8" y2="605.57" stroke="#3a3a3a" stroke-width="1" />
<line x1="444.4" y1="602.78" x2="446" y2="602.78" stroke="#3c4444" stroke-width="1" />
<line x1="2" y1="602.78" x2="3.8" y2="602.78" stroke="#3a3a3a" stroke-width="1" />
<line x1="443" y1="600" x2="446" y2="600" stroke="#3c4444" stroke-width="1.2" />
<line x1="2" y1="600" x2="5" y2="600" stroke="#3a3a3a" stroke-width="1.2" />
<line x1="444.4" y1="597.22" x2="446" y2="597.22" stroke="#3c4444" stroke-width="1" />
<line x1="2" y1="597.22" x2="3.8" y2="597.22" stroke="#3a3a3a" stroke-width="1" />
<line x1="444.4" y1="594.43" x2="446" y2="594.43" stroke="#3c4444" stroke-width="1" />
<line x1="2" y1="594.43" x2="3.8" y2="594.43" stroke="#3a3a3a" stroke-width="1" />
<line x1="444.4" y1="591.65" x2="446" y2="591.65" stroke="#3c4444" stroke-width="1" />
<line x1="2" y1="591.65" x2="3.8" y2="591.65" stroke="#3a3a3a" stroke-width="1" />
<line x1="444.4" y1="588.86" x2="446" y2="588.86" stroke="#3c4444" stroke-width="1" />
<line x1="2" y1="588.86" x2="3.8" y2="588.86" stroke="#3a3a3a" stroke-width="1" />
<line x1="443" y1="586.08" x2="446" y2="586.08" stroke="#3c4444" stroke-width="1.2" />
<line x1="2" y1="586.08" x2="5" y2="586.08" stroke="#3a3a3a" stroke-width="1.2" />
<line x1="444.4" y1="583.3" x2="446" y2="583.3" stroke="#3c4444" stroke-width="1" />
<line x1="2" y1="583.3" x2="3.8" y2="583.3" stroke="#3a3a3a" stroke-width="1" />
<line x1="444.4" y1="580.51" x2="446" y2="580.51" stroke="#3c4444" stroke-width="1" />
<line x1="2" y1="580.51" x2="3.8" y2="580.51" stroke="#3a3a3a" stroke-width="1" />
<line x1="444.4" y1="577.73" x2="446" y2="577.73" stroke="#3c4444" stroke-width="1" />
<line x1="2" y1="577.73" x2="3.8" y2="577.73" stroke="#3a3a3a" stroke-width="1" />
<line x1="444.4" y1="574.94" x2="446" y2="574.94" stroke="#3c4444" stroke-width="1" />
<line x1="2" y1="574.94" x2="3.8" y2="574.94" stroke="#3a3a3a" stroke-width="1" />
<line x1="443" y1="572.16" x2="446" y2="572.16" stroke="#3c4444" stroke-width="1.2" />
<line x1="2" y1="572.16" x2="5" y2="572.16" stroke="#3a3a3a" stroke-width="1.2" />
<rect x="445.9" y="567" width="1.1" height="172" fill="#222222" />
<text x="448.7" y="605.7" font-size="16.3" font-weight="bold" fill="#000000" textLength="18.3" lengthAdjust="spacingAndGlyphs" >80</text>
<text x="448.7" y="633.54" font-size="16.3" font-weight="bold" fill="#000000" textLength="18.3" lengthAdjust="spacingAndGlyphs" >60</text>
<text x="448.7" y="661.38" font-size="16.3" font-weight="bold" fill="#000000" textLength="18.3" lengthAdjust="spacingAndGlyphs" >40</text>
<text x="448.7" y="689.22" font-size="16.3" font-weight="bold" fill="#000000" textLength="18.3" lengthAdjust="spacingAndGlyphs" >20</text>
<polyline points="8.07,632.1 16.47,614.5 24.87,601.9 33.27,592.6 41.67,590.1 50.07,598.2 58.47,590.1 66.87,591 75.27,587.1 83.67,596 92.07,601.4 100.47,599.9 108.87,610.3 117.27,607.8 125.67,605.8 134.07,598.5 142.47,601.4 150.87,596.3 159.27,601.9 167.67,613.9 176.07,620.2 184.47,617.9 192.87,610.8 201.27,599.4 209.67,619.5 218.07,637.2 226.47,652.6 234.87,662.4 243.27,678.7 251.67,684.2 260.07,685.6 268.47,692.1 276.87,692.3 285.27,692.1 293.67,685.9 302.07,673.3 310.47,662 318.87,642.2 327.27,619.5 335.67,604.4 344.07,602 352.47,592.6 360.87,593 369.27,595.2 377.67,591 386.07,590.6 394.47,591 402.87,594.8 411.27,598 419.67,625.4 428.07,650.6" fill="none" stroke="#5252ff" stroke-width="1.3" stroke-linejoin="round" />
<polyline points="8.07,630.1 16.47,624.6 24.87,616.2 33.27,608.1 41.67,602.7 50.07,601.6 58.47,597.4 66.87,594.8 75.27,592.6 83.67,594.3 92.07,596.8 100.47,597.4 108.87,601.1 117.27,603.9 125.67,604.4 134.07,602.4 142.47,601.9 150.87,600.5 159.27,601.1 167.67,606.8 176.07,610.7 184.47,612.3 192.87,612 201.27,607.8 209.67,610.8 218.07,619.5 226.47,630.5 234.87,641.4 243.27,653.7 251.67,663.2 260.07,670 268.47,676.7 276.87,681.7 285.27,685.6 293.67,685.9 302.07,682.2 310.47,675.2 318.87,664.3 327.27,649.4 335.67,634.7 344.07,623.7 352.47,612.8 360.87,606.1 369.27,602.2 377.67,598.2 386.07,595.5 394.47,594.3 402.87,594.3 411.27,595.7 419.67,604.4 428.07,620.4" fill="none" stroke="#ff2222" stroke-width="1.4" stroke-linejoin="round" />
<rect x="447.4" y="612.3" width="45.8" height="16.5" fill="#ff2222" />
<text x="448.6" y="626.6" font-size="15.5" font-weight="bold" fill="#ffffff" textLength="43.5" lengthAdjust="spacingAndGlyphs" >64.81</text>
<rect x="447.4" y="642.2" width="45.8" height="16.4" fill="#5252ff" />
<text x="448.6" y="656.4" font-size="15.5" font-weight="bold" fill="#ffffff" textLength="43.5" lengthAdjust="spacingAndGlyphs" >43.42</text>
<path d="M438.3 620.4H441.9M440.5 619L442.1 620.4L440.5 621.8" fill="none" stroke="#ff5555" stroke-width="0.8"/>
<path d="M438.3 650.6H441.9M440.5 649.2L442.1 650.6L440.5 652" fill="none" stroke="#6666ff" stroke-width="0.8"/>
<rect x="327.7" y="584.5" width="98.7" height="32.5" rx="5" ry="5" fill="none" stroke="#ff0000" stroke-width="3" stroke-dasharray="10.8 3" stroke-dashoffset="0"/>
<text x="156.8" y="581.7" font-size="15.8" font-weight="bold" fill="#4f4fff" textLength="38.4" lengthAdjust="spacingAndGlyphs" >Slow</text>
<text x="205.6" y="581.7" font-size="15.8" font-weight="bold" fill="#4f4fff" textLength="83" lengthAdjust="spacingAndGlyphs" >Stochastic</text>
<rect x="2" y="712.1" width="445" height="1.1" fill="#444444" />
<rect x="2" y="725" width="445" height="1.1" fill="#444444" />
<rect x="41.17" y="712.6" width="1" height="13" fill="#444444" />
<text x="43.27" y="724" font-size="12" font-weight="bold" fill="#000000" textLength="29.8" lengthAdjust="spacingAndGlyphs" >10/28</text>
<rect x="74.77" y="712.6" width="1" height="13" fill="#444444" />
<text x="76.87" y="724" font-size="12" font-weight="bold" fill="#000000" textLength="23" lengthAdjust="spacingAndGlyphs" >11/1</text>
<rect x="125.17" y="712.6" width="1" height="13" fill="#444444" />
<text x="127.27" y="724" font-size="12" font-weight="bold" fill="#000000" textLength="28.6" lengthAdjust="spacingAndGlyphs" >11/11</text>
<rect x="167.17" y="712.6" width="1" height="13" fill="#444444" />
<text x="169.27" y="724" font-size="12" font-weight="bold" fill="#000000" textLength="29.8" lengthAdjust="spacingAndGlyphs" >11/18</text>
<rect x="209.17" y="712.6" width="1" height="13" fill="#444444" />
<text x="211.27" y="724" font-size="12" font-weight="bold" fill="#000000" textLength="29.8" lengthAdjust="spacingAndGlyphs" >11/25</text>
<rect x="251.17" y="712.6" width="1" height="13" fill="#444444" />
<text x="253.27" y="724" font-size="12" font-weight="bold" fill="#000000" textLength="23" lengthAdjust="spacingAndGlyphs" >12/2</text>
<rect x="293.17" y="712.6" width="1" height="13" fill="#444444" />
<text x="295.27" y="724" font-size="12" font-weight="bold" fill="#000000" textLength="23" lengthAdjust="spacingAndGlyphs" >12/9</text>
<rect x="335.17" y="712.6" width="1" height="13" fill="#444444" />
<text x="337.27" y="724" font-size="12" font-weight="bold" fill="#000000" textLength="29.8" lengthAdjust="spacingAndGlyphs" >12/16</text>
<rect x="377.17" y="712.6" width="1" height="13" fill="#444444" />
<text x="379.27" y="724" font-size="12" font-weight="bold" fill="#000000" textLength="29.8" lengthAdjust="spacingAndGlyphs" >12/23</text>
<text x="8.8" y="735.7" font-size="12" font-weight="bold" fill="#000000" textLength="18.2" lengthAdjust="spacingAndGlyphs" >Oct</text>
<rect x="74.77" y="725.5" width="1" height="14" fill="#444444" />
<text x="76.87" y="735.7" font-size="12" font-weight="bold" fill="#000000" textLength="20" lengthAdjust="spacingAndGlyphs" >Nov</text>
<rect x="251.17" y="725.5" width="1" height="14" fill="#444444" />
<text x="253.27" y="735.7" font-size="12" font-weight="bold" fill="#000000" textLength="19.6" lengthAdjust="spacingAndGlyphs" >Dec</text>
<text x="494.6" y="731.4" font-size="12" font-weight="bold" fill="#000000" textLength="20" lengthAdjust="spacingAndGlyphs" >Day</text>
<rect x="543" y="0" width="1" height="566" fill="#1a1a1a" />
<line x1="544" y1="2.8" x2="545.6" y2="2.8" stroke="#333333" stroke-width="1" />
<line x1="986.2" y1="2.8" x2="988" y2="2.8" stroke="#444444" stroke-width="0.9" />
<line x1="544" y1="5.6" x2="547" y2="5.6" stroke="#333333" stroke-width="1" />
<line x1="985.3" y1="5.6" x2="988" y2="5.6" stroke="#444444" stroke-width="0.9" />
<line x1="544" y1="8.4" x2="545.6" y2="8.4" stroke="#333333" stroke-width="1" />
<line x1="986.2" y1="8.4" x2="988" y2="8.4" stroke="#444444" stroke-width="0.9" />
<line x1="544" y1="11.2" x2="547" y2="11.2" stroke="#333333" stroke-width="1" />
<line x1="985.3" y1="11.2" x2="988" y2="11.2" stroke="#444444" stroke-width="0.9" />
<line x1="544" y1="14" x2="545.6" y2="14" stroke="#333333" stroke-width="1" />
<line x1="986.2" y1="14" x2="988" y2="14" stroke="#444444" stroke-width="0.9" />
<line x1="544" y1="16.8" x2="547" y2="16.8" stroke="#333333" stroke-width="1" />
<line x1="985.3" y1="16.8" x2="988" y2="16.8" stroke="#444444" stroke-width="0.9" />
<line x1="544" y1="19.6" x2="545.6" y2="19.6" stroke="#333333" stroke-width="1" />
<line x1="986.2" y1="19.6" x2="988" y2="19.6" stroke="#444444" stroke-width="0.9" />
<line x1="544" y1="22.4" x2="547" y2="22.4" stroke="#333333" stroke-width="1" />
<line x1="985.3" y1="22.4" x2="988" y2="22.4" stroke="#444444" stroke-width="0.9" />
<line x1="544" y1="25.2" x2="545.6" y2="25.2" stroke="#333333" stroke-width="1" />
<line x1="986.2" y1="25.2" x2="988" y2="25.2" stroke="#444444" stroke-width="0.9" />
<line x1="544" y1="28" x2="547" y2="28" stroke="#333333" stroke-width="1" />
<line x1="985.3" y1="28" x2="988" y2="28" stroke="#444444" stroke-width="0.9" />
<line x1="544" y1="30.8" x2="545.6" y2="30.8" stroke="#333333" stroke-width="1" />
<line x1="986.2" y1="30.8" x2="988" y2="30.8" stroke="#444444" stroke-width="0.9" />
<line x1="544" y1="33.6" x2="547" y2="33.6" stroke="#333333" stroke-width="1" />
<line x1="985.3" y1="33.6" x2="988" y2="33.6" stroke="#444444" stroke-width="0.9" />
<line x1="544" y1="36.4" x2="545.6" y2="36.4" stroke="#333333" stroke-width="1" />
<line x1="986.2" y1="36.4" x2="988" y2="36.4" stroke="#444444" stroke-width="0.9" />
<line x1="544" y1="39.2" x2="547" y2="39.2" stroke="#333333" stroke-width="1" />
<line x1="985.3" y1="39.2" x2="988" y2="39.2" stroke="#444444" stroke-width="0.9" />
<line x1="544" y1="42" x2="545.6" y2="42" stroke="#333333" stroke-width="1" />
<line x1="986.2" y1="42" x2="988" y2="42" stroke="#444444" stroke-width="0.9" />
<line x1="544" y1="44.8" x2="547" y2="44.8" stroke="#333333" stroke-width="1" />
<line x1="985.3" y1="44.8" x2="988" y2="44.8" stroke="#444444" stroke-width="0.9" />
<line x1="544" y1="47.6" x2="545.6" y2="47.6" stroke="#333333" stroke-width="1" />
<line x1="986.2" y1="47.6" x2="988" y2="47.6" stroke="#444444" stroke-width="0.9" />
<line x1="544" y1="50.4" x2="547" y2="50.4" stroke="#333333" stroke-width="1" />
<line x1="985.3" y1="50.4" x2="988" y2="50.4" stroke="#444444" stroke-width="0.9" />
<line x1="544" y1="53.2" x2="545.6" y2="53.2" stroke="#333333" stroke-width="1" />
<line x1="986.2" y1="53.2" x2="988" y2="53.2" stroke="#444444" stroke-width="0.9" />
<line x1="544" y1="56" x2="547" y2="56" stroke="#333333" stroke-width="1" />
<line x1="985.3" y1="56" x2="988" y2="56" stroke="#444444" stroke-width="0.9" />
<line x1="544" y1="58.8" x2="545.6" y2="58.8" stroke="#333333" stroke-width="1" />
<line x1="986.2" y1="58.8" x2="988" y2="58.8" stroke="#444444" stroke-width="0.9" />
<line x1="544" y1="61.6" x2="547" y2="61.6" stroke="#333333" stroke-width="1" />
<line x1="985.3" y1="61.6" x2="988" y2="61.6" stroke="#444444" stroke-width="0.9" />
<line x1="544" y1="64.4" x2="545.6" y2="64.4" stroke="#333333" stroke-width="1" />
<line x1="986.2" y1="64.4" x2="988" y2="64.4" stroke="#444444" stroke-width="0.9" />
<line x1="544" y1="67.2" x2="547" y2="67.2" stroke="#333333" stroke-width="1" />
<line x1="985.3" y1="67.2" x2="988" y2="67.2" stroke="#444444" stroke-width="0.9" />
<line x1="544" y1="70" x2="545.6" y2="70" stroke="#333333" stroke-width="1" />
<line x1="986.2" y1="70" x2="988" y2="70" stroke="#444444" stroke-width="0.9" />
<line x1="544" y1="72.8" x2="547" y2="72.8" stroke="#333333" stroke-width="1" />
<line x1="985.3" y1="72.8" x2="988" y2="72.8" stroke="#444444" stroke-width="0.9" />
<line x1="544" y1="75.6" x2="545.6" y2="75.6" stroke="#333333" stroke-width="1" />
<line x1="986.2" y1="75.6" x2="988" y2="75.6" stroke="#444444" stroke-width="0.9" />
<line x1="544" y1="78.4" x2="547" y2="78.4" stroke="#333333" stroke-width="1" />
<line x1="985.3" y1="78.4" x2="988" y2="78.4" stroke="#444444" stroke-width="0.9" />
<line x1="544" y1="81.2" x2="545.6" y2="81.2" stroke="#333333" stroke-width="1" />
<line x1="986.2" y1="81.2" x2="988" y2="81.2" stroke="#444444" stroke-width="0.9" />
<line x1="544" y1="84" x2="547" y2="84" stroke="#333333" stroke-width="1" />
<line x1="985.3" y1="84" x2="988" y2="84" stroke="#444444" stroke-width="0.9" />
<line x1="544" y1="86.8" x2="545.6" y2="86.8" stroke="#333333" stroke-width="1" />
<line x1="986.2" y1="86.8" x2="988" y2="86.8" stroke="#444444" stroke-width="0.9" />
<line x1="544" y1="89.6" x2="547" y2="89.6" stroke="#333333" stroke-width="1" />
<line x1="985.3" y1="89.6" x2="988" y2="89.6" stroke="#444444" stroke-width="0.9" />
<line x1="544" y1="92.4" x2="545.6" y2="92.4" stroke="#333333" stroke-width="1" />
<line x1="986.2" y1="92.4" x2="988" y2="92.4" stroke="#444444" stroke-width="0.9" />
<line x1="544" y1="95.2" x2="547" y2="95.2" stroke="#333333" stroke-width="1" />
<line x1="985.3" y1="95.2" x2="988" y2="95.2" stroke="#444444" stroke-width="0.9" />
<line x1="544" y1="98" x2="545.6" y2="98" stroke="#333333" stroke-width="1" />
<line x1="986.2" y1="98" x2="988" y2="98" stroke="#444444" stroke-width="0.9" />
<line x1="544" y1="100.8" x2="547" y2="100.8" stroke="#333333" stroke-width="1" />
<line x1="985.3" y1="100.8" x2="988" y2="100.8" stroke="#444444" stroke-width="0.9" />
<line x1="544" y1="103.6" x2="545.6" y2="103.6" stroke="#333333" stroke-width="1" />
<line x1="986.2" y1="103.6" x2="988" y2="103.6" stroke="#444444" stroke-width="0.9" />
<line x1="544" y1="106.4" x2="547" y2="106.4" stroke="#333333" stroke-width="1" />
<line x1="985.3" y1="106.4" x2="988" y2="106.4" stroke="#444444" stroke-width="0.9" />
<line x1="544" y1="109.2" x2="545.6" y2="109.2" stroke="#333333" stroke-width="1" />
<line x1="986.2" y1="109.2" x2="988" y2="109.2" stroke="#444444" stroke-width="0.9" />
<line x1="544" y1="112" x2="547" y2="112" stroke="#333333" stroke-width="1" />
<line x1="985.3" y1="112" x2="988" y2="112" stroke="#444444" stroke-width="0.9" />
<line x1="544" y1="114.8" x2="545.6" y2="114.8" stroke="#333333" stroke-width="1" />
<line x1="986.2" y1="114.8" x2="988" y2="114.8" stroke="#444444" stroke-width="0.9" />
<line x1="544" y1="117.6" x2="547" y2="117.6" stroke="#333333" stroke-width="1" />
<line x1="985.3" y1="117.6" x2="988" y2="117.6" stroke="#444444" stroke-width="0.9" />
<line x1="544" y1="120.4" x2="545.6" y2="120.4" stroke="#333333" stroke-width="1" />
<line x1="986.2" y1="120.4" x2="988" y2="120.4" stroke="#444444" stroke-width="0.9" />
<line x1="544" y1="123.2" x2="547" y2="123.2" stroke="#333333" stroke-width="1" />
<line x1="985.3" y1="123.2" x2="988" y2="123.2" stroke="#444444" stroke-width="0.9" />
<line x1="544" y1="126" x2="545.6" y2="126" stroke="#333333" stroke-width="1" />
<line x1="986.2" y1="126" x2="988" y2="126" stroke="#444444" stroke-width="0.9" />
<line x1="544" y1="128.8" x2="547" y2="128.8" stroke="#333333" stroke-width="1" />
<line x1="985.3" y1="128.8" x2="988" y2="128.8" stroke="#444444" stroke-width="0.9" />
<line x1="544" y1="131.6" x2="545.6" y2="131.6" stroke="#333333" stroke-width="1" />
<line x1="986.2" y1="131.6" x2="988" y2="131.6" stroke="#444444" stroke-width="0.9" />
<line x1="544" y1="134.4" x2="547" y2="134.4" stroke="#333333" stroke-width="1" />
<line x1="985.3" y1="134.4" x2="988" y2="134.4" stroke="#444444" stroke-width="0.9" />
<line x1="544" y1="137.2" x2="545.6" y2="137.2" stroke="#333333" stroke-width="1" />
<line x1="986.2" y1="137.2" x2="988" y2="137.2" stroke="#444444" stroke-width="0.9" />
<line x1="544" y1="140" x2="547" y2="140" stroke="#333333" stroke-width="1" />
<line x1="985.3" y1="140" x2="988" y2="140" stroke="#444444" stroke-width="0.9" />
<line x1="544" y1="142.8" x2="545.6" y2="142.8" stroke="#333333" stroke-width="1" />
<line x1="986.2" y1="142.8" x2="988" y2="142.8" stroke="#444444" stroke-width="0.9" />
<line x1="544" y1="145.6" x2="547" y2="145.6" stroke="#333333" stroke-width="1" />
<line x1="985.3" y1="145.6" x2="988" y2="145.6" stroke="#444444" stroke-width="0.9" />
<line x1="544" y1="148.4" x2="545.6" y2="148.4" stroke="#333333" stroke-width="1" />
<line x1="986.2" y1="148.4" x2="988" y2="148.4" stroke="#444444" stroke-width="0.9" />
<line x1="544" y1="151.2" x2="547" y2="151.2" stroke="#333333" stroke-width="1" />
<line x1="985.3" y1="151.2" x2="988" y2="151.2" stroke="#444444" stroke-width="0.9" />
<line x1="544" y1="154" x2="545.6" y2="154" stroke="#333333" stroke-width="1" />
<line x1="986.2" y1="154" x2="988" y2="154" stroke="#444444" stroke-width="0.9" />
<line x1="544" y1="156.8" x2="547" y2="156.8" stroke="#333333" stroke-width="1" />
<line x1="985.3" y1="156.8" x2="988" y2="156.8" stroke="#444444" stroke-width="0.9" />
<line x1="544" y1="159.6" x2="545.6" y2="159.6" stroke="#333333" stroke-width="1" />
<line x1="986.2" y1="159.6" x2="988" y2="159.6" stroke="#444444" stroke-width="0.9" />
<line x1="544" y1="162.4" x2="547" y2="162.4" stroke="#333333" stroke-width="1" />
<line x1="985.3" y1="162.4" x2="988" y2="162.4" stroke="#444444" stroke-width="0.9" />
<line x1="544" y1="165.2" x2="545.6" y2="165.2" stroke="#333333" stroke-width="1" />
<line x1="986.2" y1="165.2" x2="988" y2="165.2" stroke="#444444" stroke-width="0.9" />
<line x1="544" y1="168" x2="547" y2="168" stroke="#333333" stroke-width="1" />
<line x1="985.3" y1="168" x2="988" y2="168" stroke="#444444" stroke-width="0.9" />
<line x1="544" y1="170.8" x2="545.6" y2="170.8" stroke="#333333" stroke-width="1" />
<line x1="986.2" y1="170.8" x2="988" y2="170.8" stroke="#444444" stroke-width="0.9" />
<line x1="544" y1="173.6" x2="547" y2="173.6" stroke="#333333" stroke-width="1" />
<line x1="985.3" y1="173.6" x2="988" y2="173.6" stroke="#444444" stroke-width="0.9" />
<line x1="544" y1="176.4" x2="545.6" y2="176.4" stroke="#333333" stroke-width="1" />
<line x1="986.2" y1="176.4" x2="988" y2="176.4" stroke="#444444" stroke-width="0.9" />
<line x1="544" y1="179.2" x2="547" y2="179.2" stroke="#333333" stroke-width="1" />
<line x1="985.3" y1="179.2" x2="988" y2="179.2" stroke="#444444" stroke-width="0.9" />
<line x1="544" y1="182" x2="545.6" y2="182" stroke="#333333" stroke-width="1" />
<line x1="986.2" y1="182" x2="988" y2="182" stroke="#444444" stroke-width="0.9" />
<line x1="544" y1="184.8" x2="547" y2="184.8" stroke="#333333" stroke-width="1" />
<line x1="985.3" y1="184.8" x2="988" y2="184.8" stroke="#444444" stroke-width="0.9" />
<line x1="544" y1="187.6" x2="545.6" y2="187.6" stroke="#333333" stroke-width="1" />
<line x1="986.2" y1="187.6" x2="988" y2="187.6" stroke="#444444" stroke-width="0.9" />
<line x1="544" y1="190.4" x2="547" y2="190.4" stroke="#333333" stroke-width="1" />
<line x1="985.3" y1="190.4" x2="988" y2="190.4" stroke="#444444" stroke-width="0.9" />
<line x1="544" y1="193.2" x2="545.6" y2="193.2" stroke="#333333" stroke-width="1" />
<line x1="986.2" y1="193.2" x2="988" y2="193.2" stroke="#444444" stroke-width="0.9" />
<line x1="544" y1="196" x2="547" y2="196" stroke="#333333" stroke-width="1" />
<line x1="985.3" y1="196" x2="988" y2="196" stroke="#444444" stroke-width="0.9" />
<line x1="544" y1="198.8" x2="545.6" y2="198.8" stroke="#333333" stroke-width="1" />
<line x1="986.2" y1="198.8" x2="988" y2="198.8" stroke="#444444" stroke-width="0.9" />
<line x1="544" y1="201.6" x2="547" y2="201.6" stroke="#333333" stroke-width="1" />
<line x1="985.3" y1="201.6" x2="988" y2="201.6" stroke="#444444" stroke-width="0.9" />
<line x1="544" y1="204.4" x2="545.6" y2="204.4" stroke="#333333" stroke-width="1" />
<line x1="986.2" y1="204.4" x2="988" y2="204.4" stroke="#444444" stroke-width="0.9" />
<line x1="544" y1="207.2" x2="547" y2="207.2" stroke="#333333" stroke-width="1" />
<line x1="985.3" y1="207.2" x2="988" y2="207.2" stroke="#444444" stroke-width="0.9" />
<line x1="544" y1="210" x2="545.6" y2="210" stroke="#333333" stroke-width="1" />
<line x1="986.2" y1="210" x2="988" y2="210" stroke="#444444" stroke-width="0.9" />
<line x1="544" y1="212.8" x2="547" y2="212.8" stroke="#333333" stroke-width="1" />
<line x1="985.3" y1="212.8" x2="988" y2="212.8" stroke="#444444" stroke-width="0.9" />
<line x1="544" y1="215.6" x2="545.6" y2="215.6" stroke="#333333" stroke-width="1" />
<line x1="986.2" y1="215.6" x2="988" y2="215.6" stroke="#444444" stroke-width="0.9" />
<line x1="544" y1="218.4" x2="547" y2="218.4" stroke="#333333" stroke-width="1" />
<line x1="985.3" y1="218.4" x2="988" y2="218.4" stroke="#444444" stroke-width="0.9" />
<line x1="544" y1="221.2" x2="545.6" y2="221.2" stroke="#333333" stroke-width="1" />
<line x1="986.2" y1="221.2" x2="988" y2="221.2" stroke="#444444" stroke-width="0.9" />
<line x1="544" y1="224" x2="547" y2="224" stroke="#333333" stroke-width="1" />
<line x1="985.3" y1="224" x2="988" y2="224" stroke="#444444" stroke-width="0.9" />
<line x1="544" y1="226.8" x2="545.6" y2="226.8" stroke="#333333" stroke-width="1" />
<line x1="986.2" y1="226.8" x2="988" y2="226.8" stroke="#444444" stroke-width="0.9" />
<line x1="544" y1="229.6" x2="547" y2="229.6" stroke="#333333" stroke-width="1" />
<line x1="985.3" y1="229.6" x2="988" y2="229.6" stroke="#444444" stroke-width="0.9" />
<line x1="544" y1="232.4" x2="545.6" y2="232.4" stroke="#333333" stroke-width="1" />
<line x1="986.2" y1="232.4" x2="988" y2="232.4" stroke="#444444" stroke-width="0.9" />
<line x1="544" y1="235.2" x2="547" y2="235.2" stroke="#333333" stroke-width="1" />
<line x1="985.3" y1="235.2" x2="988" y2="235.2" stroke="#444444" stroke-width="0.9" />
<line x1="544" y1="238" x2="545.6" y2="238" stroke="#333333" stroke-width="1" />
<line x1="986.2" y1="238" x2="988" y2="238" stroke="#444444" stroke-width="0.9" />
<line x1="544" y1="240.8" x2="547" y2="240.8" stroke="#333333" stroke-width="1" />
<line x1="985.3" y1="240.8" x2="988" y2="240.8" stroke="#444444" stroke-width="0.9" />
<line x1="544" y1="243.6" x2="545.6" y2="243.6" stroke="#333333" stroke-width="1" />
<line x1="986.2" y1="243.6" x2="988" y2="243.6" stroke="#444444" stroke-width="0.9" />
<line x1="544" y1="246.4" x2="547" y2="246.4" stroke="#333333" stroke-width="1" />
<line x1="985.3" y1="246.4" x2="988" y2="246.4" stroke="#444444" stroke-width="0.9" />
<line x1="544" y1="249.2" x2="545.6" y2="249.2" stroke="#333333" stroke-width="1" />
<line x1="986.2" y1="249.2" x2="988" y2="249.2" stroke="#444444" stroke-width="0.9" />
<line x1="544" y1="252" x2="547" y2="252" stroke="#333333" stroke-width="1" />
<line x1="985.3" y1="252" x2="988" y2="252" stroke="#444444" stroke-width="0.9" />
<line x1="544" y1="254.8" x2="545.6" y2="254.8" stroke="#333333" stroke-width="1" />
<line x1="986.2" y1="254.8" x2="988" y2="254.8" stroke="#444444" stroke-width="0.9" />
<line x1="544" y1="257.6" x2="547" y2="257.6" stroke="#333333" stroke-width="1" />
<line x1="985.3" y1="257.6" x2="988" y2="257.6" stroke="#444444" stroke-width="0.9" />
<line x1="544" y1="260.4" x2="545.6" y2="260.4" stroke="#333333" stroke-width="1" />
<line x1="986.2" y1="260.4" x2="988" y2="260.4" stroke="#444444" stroke-width="0.9" />
<line x1="544" y1="263.2" x2="547" y2="263.2" stroke="#333333" stroke-width="1" />
<line x1="985.3" y1="263.2" x2="988" y2="263.2" stroke="#444444" stroke-width="0.9" />
<line x1="544" y1="266" x2="545.6" y2="266" stroke="#333333" stroke-width="1" />
<line x1="986.2" y1="266" x2="988" y2="266" stroke="#444444" stroke-width="0.9" />
<line x1="544" y1="268.8" x2="547" y2="268.8" stroke="#333333" stroke-width="1" />
<line x1="985.3" y1="268.8" x2="988" y2="268.8" stroke="#444444" stroke-width="0.9" />
<line x1="544" y1="271.6" x2="545.6" y2="271.6" stroke="#333333" stroke-width="1" />
<line x1="986.2" y1="271.6" x2="988" y2="271.6" stroke="#444444" stroke-width="0.9" />
<line x1="544" y1="274.4" x2="547" y2="274.4" stroke="#333333" stroke-width="1" />
<line x1="985.3" y1="274.4" x2="988" y2="274.4" stroke="#444444" stroke-width="0.9" />
<line x1="544" y1="277.2" x2="545.6" y2="277.2" stroke="#333333" stroke-width="1" />
<line x1="986.2" y1="277.2" x2="988" y2="277.2" stroke="#444444" stroke-width="0.9" />
<line x1="544" y1="280" x2="547" y2="280" stroke="#333333" stroke-width="1" />
<line x1="985.3" y1="280" x2="988" y2="280" stroke="#444444" stroke-width="0.9" />
<line x1="544" y1="282.8" x2="545.6" y2="282.8" stroke="#333333" stroke-width="1" />
<line x1="986.2" y1="282.8" x2="988" y2="282.8" stroke="#444444" stroke-width="0.9" />
<line x1="544" y1="285.6" x2="547" y2="285.6" stroke="#333333" stroke-width="1" />
<line x1="985.3" y1="285.6" x2="988" y2="285.6" stroke="#444444" stroke-width="0.9" />
<line x1="544" y1="288.4" x2="545.6" y2="288.4" stroke="#333333" stroke-width="1" />
<line x1="986.2" y1="288.4" x2="988" y2="288.4" stroke="#444444" stroke-width="0.9" />
<line x1="544" y1="291.2" x2="547" y2="291.2" stroke="#333333" stroke-width="1" />
<line x1="985.3" y1="291.2" x2="988" y2="291.2" stroke="#444444" stroke-width="0.9" />
<line x1="544" y1="294" x2="545.6" y2="294" stroke="#333333" stroke-width="1" />
<line x1="986.2" y1="294" x2="988" y2="294" stroke="#444444" stroke-width="0.9" />
<line x1="544" y1="296.8" x2="547" y2="296.8" stroke="#333333" stroke-width="1" />
<line x1="985.3" y1="296.8" x2="988" y2="296.8" stroke="#444444" stroke-width="0.9" />
<line x1="544" y1="299.6" x2="545.6" y2="299.6" stroke="#333333" stroke-width="1" />
<line x1="986.2" y1="299.6" x2="988" y2="299.6" stroke="#444444" stroke-width="0.9" />
<line x1="544" y1="302.4" x2="547" y2="302.4" stroke="#333333" stroke-width="1" />
<line x1="985.3" y1="302.4" x2="988" y2="302.4" stroke="#444444" stroke-width="0.9" />
<line x1="544" y1="305.2" x2="545.6" y2="305.2" stroke="#333333" stroke-width="1" />
<line x1="986.2" y1="305.2" x2="988" y2="305.2" stroke="#444444" stroke-width="0.9" />
<line x1="544" y1="308" x2="547" y2="308" stroke="#333333" stroke-width="1" />
<line x1="985.3" y1="308" x2="988" y2="308" stroke="#444444" stroke-width="0.9" />
<line x1="544" y1="310.8" x2="545.6" y2="310.8" stroke="#333333" stroke-width="1" />
<line x1="986.2" y1="310.8" x2="988" y2="310.8" stroke="#444444" stroke-width="0.9" />
<line x1="544" y1="313.6" x2="547" y2="313.6" stroke="#333333" stroke-width="1" />
<line x1="985.3" y1="313.6" x2="988" y2="313.6" stroke="#444444" stroke-width="0.9" />
<line x1="544" y1="316.4" x2="545.6" y2="316.4" stroke="#333333" stroke-width="1" />
<line x1="986.2" y1="316.4" x2="988" y2="316.4" stroke="#444444" stroke-width="0.9" />
<line x1="544" y1="319.2" x2="547" y2="319.2" stroke="#333333" stroke-width="1" />
<line x1="985.3" y1="319.2" x2="988" y2="319.2" stroke="#444444" stroke-width="0.9" />
<line x1="544" y1="322" x2="545.6" y2="322" stroke="#333333" stroke-width="1" />
<line x1="986.2" y1="322" x2="988" y2="322" stroke="#444444" stroke-width="0.9" />
<line x1="544" y1="324.8" x2="547" y2="324.8" stroke="#333333" stroke-width="1" />
<line x1="985.3" y1="324.8" x2="988" y2="324.8" stroke="#444444" stroke-width="0.9" />
<line x1="544" y1="327.6" x2="545.6" y2="327.6" stroke="#333333" stroke-width="1" />
<line x1="986.2" y1="327.6" x2="988" y2="327.6" stroke="#444444" stroke-width="0.9" />
<line x1="544" y1="330.4" x2="547" y2="330.4" stroke="#333333" stroke-width="1" />
<line x1="985.3" y1="330.4" x2="988" y2="330.4" stroke="#444444" stroke-width="0.9" />
<line x1="544" y1="333.2" x2="545.6" y2="333.2" stroke="#333333" stroke-width="1" />
<line x1="986.2" y1="333.2" x2="988" y2="333.2" stroke="#444444" stroke-width="0.9" />
<line x1="544" y1="336" x2="547" y2="336" stroke="#333333" stroke-width="1" />
<line x1="985.3" y1="336" x2="988" y2="336" stroke="#444444" stroke-width="0.9" />
<line x1="544" y1="338.8" x2="545.6" y2="338.8" stroke="#333333" stroke-width="1" />
<line x1="986.2" y1="338.8" x2="988" y2="338.8" stroke="#444444" stroke-width="0.9" />
<line x1="544" y1="341.6" x2="547" y2="341.6" stroke="#333333" stroke-width="1" />
<line x1="985.3" y1="341.6" x2="988" y2="341.6" stroke="#444444" stroke-width="0.9" />
<line x1="544" y1="344.4" x2="545.6" y2="344.4" stroke="#333333" stroke-width="1" />
<line x1="986.2" y1="344.4" x2="988" y2="344.4" stroke="#444444" stroke-width="0.9" />
<line x1="544" y1="347.2" x2="547" y2="347.2" stroke="#333333" stroke-width="1" />
<line x1="985.3" y1="347.2" x2="988" y2="347.2" stroke="#444444" stroke-width="0.9" />
<line x1="544" y1="350" x2="545.6" y2="350" stroke="#333333" stroke-width="1" />
<line x1="986.2" y1="350" x2="988" y2="350" stroke="#444444" stroke-width="0.9" />
<line x1="544" y1="352.8" x2="547" y2="352.8" stroke="#333333" stroke-width="1" />
<line x1="985.3" y1="352.8" x2="988" y2="352.8" stroke="#444444" stroke-width="0.9" />
<line x1="544" y1="355.6" x2="545.6" y2="355.6" stroke="#333333" stroke-width="1" />
<line x1="986.2" y1="355.6" x2="988" y2="355.6" stroke="#444444" stroke-width="0.9" />
<line x1="544" y1="358.4" x2="547" y2="358.4" stroke="#333333" stroke-width="1" />
<line x1="985.3" y1="358.4" x2="988" y2="358.4" stroke="#444444" stroke-width="0.9" />
<line x1="544" y1="361.2" x2="545.6" y2="361.2" stroke="#333333" stroke-width="1" />
<line x1="986.2" y1="361.2" x2="988" y2="361.2" stroke="#444444" stroke-width="0.9" />
<line x1="544" y1="364" x2="547" y2="364" stroke="#333333" stroke-width="1" />
<line x1="985.3" y1="364" x2="988" y2="364" stroke="#444444" stroke-width="0.9" />
<line x1="544" y1="366.8" x2="545.6" y2="366.8" stroke="#333333" stroke-width="1" />
<line x1="986.2" y1="366.8" x2="988" y2="366.8" stroke="#444444" stroke-width="0.9" />
<line x1="544" y1="369.6" x2="547" y2="369.6" stroke="#333333" stroke-width="1" />
<line x1="985.3" y1="369.6" x2="988" y2="369.6" stroke="#444444" stroke-width="0.9" />
<line x1="544" y1="372.4" x2="545.6" y2="372.4" stroke="#333333" stroke-width="1" />
<line x1="986.2" y1="372.4" x2="988" y2="372.4" stroke="#444444" stroke-width="0.9" />
<line x1="544" y1="375.2" x2="547" y2="375.2" stroke="#333333" stroke-width="1" />
<line x1="985.3" y1="375.2" x2="988" y2="375.2" stroke="#444444" stroke-width="0.9" />
<line x1="544" y1="378" x2="545.6" y2="378" stroke="#333333" stroke-width="1" />
<line x1="986.2" y1="378" x2="988" y2="378" stroke="#444444" stroke-width="0.9" />
<line x1="544" y1="380.8" x2="547" y2="380.8" stroke="#333333" stroke-width="1" />
<line x1="985.3" y1="380.8" x2="988" y2="380.8" stroke="#444444" stroke-width="0.9" />
<line x1="544" y1="383.6" x2="545.6" y2="383.6" stroke="#333333" stroke-width="1" />
<line x1="986.2" y1="383.6" x2="988" y2="383.6" stroke="#444444" stroke-width="0.9" />
<line x1="544" y1="386.4" x2="547" y2="386.4" stroke="#333333" stroke-width="1" />
<line x1="985.3" y1="386.4" x2="988" y2="386.4" stroke="#444444" stroke-width="0.9" />
<line x1="544" y1="389.2" x2="545.6" y2="389.2" stroke="#333333" stroke-width="1" />
<line x1="986.2" y1="389.2" x2="988" y2="389.2" stroke="#444444" stroke-width="0.9" />
<line x1="544" y1="392" x2="547" y2="392" stroke="#333333" stroke-width="1" />
<line x1="985.3" y1="392" x2="988" y2="392" stroke="#444444" stroke-width="0.9" />
<line x1="544" y1="394.8" x2="545.6" y2="394.8" stroke="#333333" stroke-width="1" />
<line x1="986.2" y1="394.8" x2="988" y2="394.8" stroke="#444444" stroke-width="0.9" />
<line x1="544" y1="397.6" x2="547" y2="397.6" stroke="#333333" stroke-width="1" />
<line x1="985.3" y1="397.6" x2="988" y2="397.6" stroke="#444444" stroke-width="0.9" />
<line x1="544" y1="400.4" x2="545.6" y2="400.4" stroke="#333333" stroke-width="1" />
<line x1="986.2" y1="400.4" x2="988" y2="400.4" stroke="#444444" stroke-width="0.9" />
<line x1="544" y1="403.2" x2="547" y2="403.2" stroke="#333333" stroke-width="1" />
<line x1="985.3" y1="403.2" x2="988" y2="403.2" stroke="#444444" stroke-width="0.9" />
<line x1="544" y1="406" x2="545.6" y2="406" stroke="#333333" stroke-width="1" />
<line x1="986.2" y1="406" x2="988" y2="406" stroke="#444444" stroke-width="0.9" />
<line x1="544" y1="408.8" x2="547" y2="408.8" stroke="#333333" stroke-width="1" />
<line x1="985.3" y1="408.8" x2="988" y2="408.8" stroke="#444444" stroke-width="0.9" />
<line x1="544" y1="411.6" x2="545.6" y2="411.6" stroke="#333333" stroke-width="1" />
<line x1="986.2" y1="411.6" x2="988" y2="411.6" stroke="#444444" stroke-width="0.9" />
<line x1="544" y1="414.4" x2="547" y2="414.4" stroke="#333333" stroke-width="1" />
<line x1="985.3" y1="414.4" x2="988" y2="414.4" stroke="#444444" stroke-width="0.9" />
<line x1="544" y1="417.2" x2="545.6" y2="417.2" stroke="#333333" stroke-width="1" />
<line x1="986.2" y1="417.2" x2="988" y2="417.2" stroke="#444444" stroke-width="0.9" />
<line x1="544" y1="420" x2="547" y2="420" stroke="#333333" stroke-width="1" />
<line x1="985.3" y1="420" x2="988" y2="420" stroke="#444444" stroke-width="0.9" />
<line x1="544" y1="422.8" x2="545.6" y2="422.8" stroke="#333333" stroke-width="1" />
<line x1="986.2" y1="422.8" x2="988" y2="422.8" stroke="#444444" stroke-width="0.9" />
<line x1="544" y1="425.6" x2="547" y2="425.6" stroke="#333333" stroke-width="1" />
<line x1="985.3" y1="425.6" x2="988" y2="425.6" stroke="#444444" stroke-width="0.9" />
<line x1="544" y1="428.4" x2="545.6" y2="428.4" stroke="#333333" stroke-width="1" />
<line x1="986.2" y1="428.4" x2="988" y2="428.4" stroke="#444444" stroke-width="0.9" />
<line x1="544" y1="431.2" x2="547" y2="431.2" stroke="#333333" stroke-width="1" />
<line x1="985.3" y1="431.2" x2="988" y2="431.2" stroke="#444444" stroke-width="0.9" />
<line x1="544" y1="434" x2="545.6" y2="434" stroke="#333333" stroke-width="1" />
<line x1="986.2" y1="434" x2="988" y2="434" stroke="#444444" stroke-width="0.9" />
<line x1="544" y1="436.8" x2="547" y2="436.8" stroke="#333333" stroke-width="1" />
<line x1="985.3" y1="436.8" x2="988" y2="436.8" stroke="#444444" stroke-width="0.9" />
<line x1="544" y1="439.6" x2="545.6" y2="439.6" stroke="#333333" stroke-width="1" />
<line x1="986.2" y1="439.6" x2="988" y2="439.6" stroke="#444444" stroke-width="0.9" />
<line x1="544" y1="442.4" x2="547" y2="442.4" stroke="#333333" stroke-width="1" />
<line x1="985.3" y1="442.4" x2="988" y2="442.4" stroke="#444444" stroke-width="0.9" />
<line x1="544" y1="445.2" x2="545.6" y2="445.2" stroke="#333333" stroke-width="1" />
<line x1="986.2" y1="445.2" x2="988" y2="445.2" stroke="#444444" stroke-width="0.9" />
<line x1="544" y1="448" x2="547" y2="448" stroke="#333333" stroke-width="1" />
<line x1="985.3" y1="448" x2="988" y2="448" stroke="#444444" stroke-width="0.9" />
<line x1="544" y1="450.8" x2="545.6" y2="450.8" stroke="#333333" stroke-width="1" />
<line x1="986.2" y1="450.8" x2="988" y2="450.8" stroke="#444444" stroke-width="0.9" />
<line x1="544" y1="453.6" x2="547" y2="453.6" stroke="#333333" stroke-width="1" />
<line x1="985.3" y1="453.6" x2="988" y2="453.6" stroke="#444444" stroke-width="0.9" />
<line x1="544" y1="456.4" x2="545.6" y2="456.4" stroke="#333333" stroke-width="1" />
<line x1="986.2" y1="456.4" x2="988" y2="456.4" stroke="#444444" stroke-width="0.9" />
<line x1="544" y1="459.2" x2="547" y2="459.2" stroke="#333333" stroke-width="1" />
<line x1="985.3" y1="459.2" x2="988" y2="459.2" stroke="#444444" stroke-width="0.9" />
<line x1="544" y1="462" x2="545.6" y2="462" stroke="#333333" stroke-width="1" />
<line x1="986.2" y1="462" x2="988" y2="462" stroke="#444444" stroke-width="0.9" />
<line x1="544" y1="464.8" x2="547" y2="464.8" stroke="#333333" stroke-width="1" />
<line x1="985.3" y1="464.8" x2="988" y2="464.8" stroke="#444444" stroke-width="0.9" />
<line x1="544" y1="467.6" x2="545.6" y2="467.6" stroke="#333333" stroke-width="1" />
<line x1="986.2" y1="467.6" x2="988" y2="467.6" stroke="#444444" stroke-width="0.9" />
<line x1="544" y1="470.4" x2="547" y2="470.4" stroke="#333333" stroke-width="1" />
<line x1="985.3" y1="470.4" x2="988" y2="470.4" stroke="#444444" stroke-width="0.9" />
<line x1="544" y1="473.2" x2="545.6" y2="473.2" stroke="#333333" stroke-width="1" />
<line x1="986.2" y1="473.2" x2="988" y2="473.2" stroke="#444444" stroke-width="0.9" />
<line x1="544" y1="476" x2="547" y2="476" stroke="#333333" stroke-width="1" />
<line x1="985.3" y1="476" x2="988" y2="476" stroke="#444444" stroke-width="0.9" />
<line x1="544" y1="478.8" x2="545.6" y2="478.8" stroke="#333333" stroke-width="1" />
<line x1="986.2" y1="478.8" x2="988" y2="478.8" stroke="#444444" stroke-width="0.9" />
<line x1="544" y1="481.6" x2="547" y2="481.6" stroke="#333333" stroke-width="1" />
<line x1="985.3" y1="481.6" x2="988" y2="481.6" stroke="#444444" stroke-width="0.9" />
<line x1="544" y1="484.4" x2="545.6" y2="484.4" stroke="#333333" stroke-width="1" />
<line x1="986.2" y1="484.4" x2="988" y2="484.4" stroke="#444444" stroke-width="0.9" />
<line x1="544" y1="487.2" x2="547" y2="487.2" stroke="#333333" stroke-width="1" />
<line x1="985.3" y1="487.2" x2="988" y2="487.2" stroke="#444444" stroke-width="0.9" />
<line x1="544" y1="490" x2="545.6" y2="490" stroke="#333333" stroke-width="1" />
<line x1="986.2" y1="490" x2="988" y2="490" stroke="#444444" stroke-width="0.9" />
<line x1="544" y1="492.8" x2="547" y2="492.8" stroke="#333333" stroke-width="1" />
<line x1="985.3" y1="492.8" x2="988" y2="492.8" stroke="#444444" stroke-width="0.9" />
<line x1="544" y1="495.6" x2="545.6" y2="495.6" stroke="#333333" stroke-width="1" />
<line x1="986.2" y1="495.6" x2="988" y2="495.6" stroke="#444444" stroke-width="0.9" />
<line x1="544" y1="498.4" x2="547" y2="498.4" stroke="#333333" stroke-width="1" />
<line x1="985.3" y1="498.4" x2="988" y2="498.4" stroke="#444444" stroke-width="0.9" />
<line x1="544" y1="501.2" x2="545.6" y2="501.2" stroke="#333333" stroke-width="1" />
<line x1="986.2" y1="501.2" x2="988" y2="501.2" stroke="#444444" stroke-width="0.9" />
<line x1="544" y1="504" x2="547" y2="504" stroke="#333333" stroke-width="1" />
<line x1="985.3" y1="504" x2="988" y2="504" stroke="#444444" stroke-width="0.9" />
<line x1="544" y1="506.8" x2="545.6" y2="506.8" stroke="#333333" stroke-width="1" />
<line x1="986.2" y1="506.8" x2="988" y2="506.8" stroke="#444444" stroke-width="0.9" />
<line x1="544" y1="509.6" x2="547" y2="509.6" stroke="#333333" stroke-width="1" />
<line x1="985.3" y1="509.6" x2="988" y2="509.6" stroke="#444444" stroke-width="0.9" />
<line x1="544" y1="512.4" x2="545.6" y2="512.4" stroke="#333333" stroke-width="1" />
<line x1="986.2" y1="512.4" x2="988" y2="512.4" stroke="#444444" stroke-width="0.9" />
<line x1="544" y1="515.2" x2="547" y2="515.2" stroke="#333333" stroke-width="1" />
<line x1="985.3" y1="515.2" x2="988" y2="515.2" stroke="#444444" stroke-width="0.9" />
<line x1="544" y1="518" x2="545.6" y2="518" stroke="#333333" stroke-width="1" />
<line x1="986.2" y1="518" x2="988" y2="518" stroke="#444444" stroke-width="0.9" />
<line x1="544" y1="520.8" x2="547" y2="520.8" stroke="#333333" stroke-width="1" />
<line x1="985.3" y1="520.8" x2="988" y2="520.8" stroke="#444444" stroke-width="0.9" />
<line x1="544" y1="523.6" x2="545.6" y2="523.6" stroke="#333333" stroke-width="1" />
<line x1="986.2" y1="523.6" x2="988" y2="523.6" stroke="#444444" stroke-width="0.9" />
<line x1="544" y1="526.4" x2="547" y2="526.4" stroke="#333333" stroke-width="1" />
<line x1="985.3" y1="526.4" x2="988" y2="526.4" stroke="#444444" stroke-width="0.9" />
<line x1="544" y1="529.2" x2="545.6" y2="529.2" stroke="#333333" stroke-width="1" />
<line x1="986.2" y1="529.2" x2="988" y2="529.2" stroke="#444444" stroke-width="0.9" />
<line x1="544" y1="532" x2="547" y2="532" stroke="#333333" stroke-width="1" />
<line x1="985.3" y1="532" x2="988" y2="532" stroke="#444444" stroke-width="0.9" />
<line x1="544" y1="534.8" x2="545.6" y2="534.8" stroke="#333333" stroke-width="1" />
<line x1="986.2" y1="534.8" x2="988" y2="534.8" stroke="#444444" stroke-width="0.9" />
<line x1="544" y1="537.6" x2="547" y2="537.6" stroke="#333333" stroke-width="1" />
<line x1="985.3" y1="537.6" x2="988" y2="537.6" stroke="#444444" stroke-width="0.9" />
<line x1="544" y1="540.4" x2="545.6" y2="540.4" stroke="#333333" stroke-width="1" />
<line x1="986.2" y1="540.4" x2="988" y2="540.4" stroke="#444444" stroke-width="0.9" />
<line x1="544" y1="543.2" x2="547" y2="543.2" stroke="#333333" stroke-width="1" />
<line x1="985.3" y1="543.2" x2="988" y2="543.2" stroke="#444444" stroke-width="0.9" />
<line x1="544" y1="546" x2="545.6" y2="546" stroke="#333333" stroke-width="1" />
<line x1="986.2" y1="546" x2="988" y2="546" stroke="#444444" stroke-width="0.9" />
<line x1="544" y1="548.8" x2="547" y2="548.8" stroke="#333333" stroke-width="1" />
<line x1="985.3" y1="548.8" x2="988" y2="548.8" stroke="#444444" stroke-width="0.9" />
<line x1="544" y1="551.6" x2="545.6" y2="551.6" stroke="#333333" stroke-width="1" />
<line x1="986.2" y1="551.6" x2="988" y2="551.6" stroke="#444444" stroke-width="0.9" />
<line x1="544" y1="554.4" x2="547" y2="554.4" stroke="#333333" stroke-width="1" />
<line x1="985.3" y1="554.4" x2="988" y2="554.4" stroke="#444444" stroke-width="0.9" />
<line x1="544" y1="557.2" x2="545.6" y2="557.2" stroke="#333333" stroke-width="1" />
<line x1="986.2" y1="557.2" x2="988" y2="557.2" stroke="#444444" stroke-width="0.9" />
<line x1="544" y1="560" x2="547" y2="560" stroke="#333333" stroke-width="1" />
<line x1="985.3" y1="560" x2="988" y2="560" stroke="#444444" stroke-width="0.9" />
<line x1="544" y1="562.8" x2="545.6" y2="562.8" stroke="#333333" stroke-width="1" />
<line x1="986.2" y1="562.8" x2="988" y2="562.8" stroke="#444444" stroke-width="0.9" />
<rect x="988" y="0" width="1.1" height="566" fill="#777777" />
<rect x="541" y="565.9" width="526" height="2.4" fill="#ececec" />
<line x1="638.3" y1="565.6" x2="984" y2="236.32" stroke="#707070" stroke-width="1" />
<line x1="549.9" y1="344.7" x2="549.9" y2="376.6" stroke="#6a6a6a" stroke-width="1" />
<rect x="548.15" y="361.8" width="3.5" height="8.1" fill="#555555" />
<line x1="554.1" y1="359.3" x2="554.1" y2="396.3" stroke="#6a6a6a" stroke-width="1" />
<rect x="552.35" y="371.9" width="3.5" height="21" fill="#555555" />
<line x1="558.3" y1="387.6" x2="558.3" y2="423.7" stroke="#6a6a6a" stroke-width="1" />
<rect x="556.55" y="390.9" width="3.5" height="21" fill="#555555" />
<line x1="562.5" y1="356.5" x2="562.5" y2="417.3" stroke="#8a8a8a" stroke-width="1" />
<rect x="561.27" y="387.22" width="2.45" height="23.65" fill="#ffffff" stroke="#7c7c7c" stroke-width="1.05" />
<line x1="566.7" y1="382.9" x2="566.7" y2="408.6" stroke="#6a6a6a" stroke-width="1" />
<rect x="564.95" y="384" width="3.5" height="19.5" fill="#555555" />
<line x1="570.9" y1="393" x2="570.9" y2="426.6" stroke="#6a6a6a" stroke-width="1" />
<rect x="569.15" y="393.8" width="3.5" height="19.6" fill="#555555" />
<line x1="575.1" y1="405.2" x2="575.1" y2="451.3" stroke="#6a6a6a" stroke-width="1" />
<rect x="573.35" y="413.9" width="3.5" height="34.5" fill="#555555" />
<line x1="579.3" y1="428.6" x2="579.3" y2="459.7" stroke="#8a8a8a" stroke-width="1" />
<rect x="578.07" y="439.22" width="2.45" height="14.25" fill="#ffffff" stroke="#7c7c7c" stroke-width="1.05" />
<line x1="583.5" y1="398.5" x2="583.5" y2="445.5" stroke="#8a8a8a" stroke-width="1" />
<rect x="582.27" y="411.92" width="2.45" height="25.05" fill="#ffffff" stroke="#7c7c7c" stroke-width="1.05" />
<line x1="587.7" y1="407.7" x2="587.7" y2="438.3" stroke="#6a6a6a" stroke-width="1" />
<rect x="585.95" y="414.8" width="3.5" height="16" fill="#555555" />
<line x1="591.9" y1="417.6" x2="591.9" y2="442.5" stroke="#8a8a8a" stroke-width="1" />
<rect x="590.67" y="424.02" width="2.45" height="12.05" fill="#ffffff" stroke="#7c7c7c" stroke-width="1.05" />
<line x1="596.1" y1="393.1" x2="596.1" y2="427.4" stroke="#8a8a8a" stroke-width="1" />
<rect x="594.88" y="419.52" width="2.45" height="5.65" fill="#ffffff" stroke="#7c7c7c" stroke-width="1.05" />
<line x1="600.3" y1="406.4" x2="600.3" y2="429.4" stroke="#8a8a8a" stroke-width="1" />
<rect x="599.07" y="412.42" width="2.45" height="8.85" fill="#ffffff" stroke="#7c7c7c" stroke-width="1.05" />
<line x1="604.5" y1="384.5" x2="604.5" y2="423.7" stroke="#8a8a8a" stroke-width="1" />
<rect x="603.27" y="401.02" width="2.45" height="9.85" fill="#ffffff" stroke="#7c7c7c" stroke-width="1.05" />
<line x1="608.7" y1="355.1" x2="608.7" y2="411.9" stroke="#8a8a8a" stroke-width="1" />
<rect x="607.47" y="372.92" width="2.45" height="25.05" fill="#ffffff" stroke="#7c7c7c" stroke-width="1.05" />
<line x1="610.95" y1="372.4" x2="614.85" y2="372.4" stroke="#8a8a8a" stroke-width="1" />
<line x1="617.1" y1="358.5" x2="617.1" y2="420.7" stroke="#6a6a6a" stroke-width="1" />
<rect x="615.35" y="361" width="3.5" height="52.4" fill="#555555" />
<line x1="621.3" y1="407.2" x2="621.3" y2="451.8" stroke="#6a6a6a" stroke-width="1" />
<rect x="619.55" y="410.6" width="3.5" height="39.1" fill="#555555" />
<line x1="625.5" y1="440" x2="625.5" y2="475" stroke="#6a6a6a" stroke-width="1" />
<rect x="623.75" y="451" width="3.5" height="19.8" fill="#555555" />
<line x1="629.7" y1="455.2" x2="629.7" y2="507.8" stroke="#6a6a6a" stroke-width="1" />
<rect x="627.95" y="468.7" width="3.5" height="3.3" fill="#555555" />
<line x1="633.9" y1="447.6" x2="633.9" y2="486.3" stroke="#6a6a6a" stroke-width="1" />
<rect x="632.15" y="458.2" width="3.5" height="23.6" fill="#555555" />
<line x1="638.1" y1="470.8" x2="638.1" y2="511.5" stroke="#6a6a6a" stroke-width="1" />
<rect x="636.35" y="480.4" width="3.5" height="22.2" fill="#555555" />
<line x1="642.3" y1="489.7" x2="642.3" y2="526.1" stroke="#8a8a8a" stroke-width="1" />
<rect x="641.07" y="501.12" width="2.45" height="6.85" fill="#ffffff" stroke="#7c7c7c" stroke-width="1.05" />
<line x1="646.5" y1="470.3" x2="646.5" y2="505.6" stroke="#8a8a8a" stroke-width="1" />
<rect x="645.27" y="489.02" width="2.45" height="9.65" fill="#ffffff" stroke="#7c7c7c" stroke-width="1.05" />
<line x1="650.7" y1="480.1" x2="650.7" y2="509.8" stroke="#8a8a8a" stroke-width="1" />
<rect x="649.48" y="493.92" width="2.45" height="6.15" fill="#ffffff" stroke="#7c7c7c" stroke-width="1.05" />
<line x1="654.9" y1="491.3" x2="654.9" y2="522.4" stroke="#6a6a6a" stroke-width="1" />
<rect x="653.15" y="496.7" width="3.5" height="25.2" fill="#555555" />
<line x1="659.1" y1="502.6" x2="659.1" y2="544.8" stroke="#8a8a8a" stroke-width="1" />
<rect x="657.88" y="505.62" width="2.45" height="17.15" fill="#ffffff" stroke="#7c7c7c" stroke-width="1.05" />
<line x1="663.3" y1="460.8" x2="663.3" y2="512" stroke="#8a8a8a" stroke-width="1" />
<rect x="662.07" y="470.82" width="2.45" height="37.95" fill="#ffffff" stroke="#7c7c7c" stroke-width="1.05" />
<line x1="667.5" y1="432" x2="667.5" y2="475.7" stroke="#8a8a8a" stroke-width="1" />
<rect x="666.27" y="454.52" width="2.45" height="10.75" fill="#ffffff" stroke="#7c7c7c" stroke-width="1.05" />
<line x1="671.7" y1="431.6" x2="671.7" y2="465.3" stroke="#8a8a8a" stroke-width="1" />
<rect x="670.48" y="435.52" width="2.45" height="19.95" fill="#ffffff" stroke="#7c7c7c" stroke-width="1.05" />
<line x1="675.9" y1="406.9" x2="675.9" y2="442.5" stroke="#6a6a6a" stroke-width="1" />
<rect x="674.15" y="427.9" width="3.5" height="2.4" fill="#555555" />
<line x1="680.1" y1="396.3" x2="680.1" y2="437.1" stroke="#6a6a6a" stroke-width="1" />
<rect x="678.35" y="431.1" width="3.5" height="3.9" fill="#555555" />
<line x1="684.3" y1="398.5" x2="684.3" y2="440" stroke="#8a8a8a" stroke-width="1" />
<rect x="683.07" y="404.02" width="2.45" height="30.75" fill="#ffffff" stroke="#7c7c7c" stroke-width="1.05" />
<line x1="688.5" y1="389.2" x2="688.5" y2="421.2" stroke="#6a6a6a" stroke-width="1" />
<rect x="686.75" y="404.7" width="3.5" height="3.9" fill="#555555" />
<line x1="692.7" y1="403.5" x2="692.7" y2="435.3" stroke="#6a6a6a" stroke-width="1" />
<rect x="690.95" y="410.6" width="3.5" height="12.9" fill="#555555" />
<line x1="696.9" y1="404.7" x2="696.9" y2="430.8" stroke="#8a8a8a" stroke-width="1" />
<rect x="695.67" y="416.12" width="2.45" height="6.85" fill="#ffffff" stroke="#7c7c7c" stroke-width="1.05" />
<line x1="701.1" y1="412.6" x2="701.1" y2="464.5" stroke="#6a6a6a" stroke-width="1" />
<rect x="699.35" y="418.2" width="3.5" height="23.5" fill="#555555" />
<line x1="705.3" y1="388.7" x2="705.3" y2="446.2" stroke="#8a8a8a" stroke-width="1" />
<rect x="704.07" y="409.72" width="2.45" height="31.75" fill="#ffffff" stroke="#7c7c7c" stroke-width="1.05" />
<line x1="709.5" y1="375.3" x2="709.5" y2="409.7" stroke="#8a8a8a" stroke-width="1" />
<rect x="708.27" y="383.02" width="2.45" height="23.65" fill="#ffffff" stroke="#7c7c7c" stroke-width="1.05" />
<line x1="713.7" y1="329.2" x2="713.7" y2="390.4" stroke="#8a8a8a" stroke-width="1" />
<rect x="712.48" y="342.22" width="2.45" height="38.95" fill="#ffffff" stroke="#7c7c7c" stroke-width="1.05" />
<line x1="717.9" y1="308.2" x2="717.9" y2="345.6" stroke="#8a8a8a" stroke-width="1" />
<rect x="716.67" y="311.72" width="2.45" height="23.25" fill="#ffffff" stroke="#7c7c7c" stroke-width="1.05" />
<line x1="722.1" y1="291.3" x2="722.1" y2="326.6" stroke="#6a6a6a" stroke-width="1" />
<rect x="720.35" y="316" width="3.5" height="1.7" fill="#555555" />
<line x1="726.3" y1="283.8" x2="726.3" y2="318.7" stroke="#8a8a8a" stroke-width="1" />
<rect x="725.07" y="291.02" width="2.45" height="22.95" fill="#ffffff" stroke="#7c7c7c" stroke-width="1.05" />
<line x1="730.5" y1="254" x2="730.5" y2="295.5" stroke="#8a8a8a" stroke-width="1" />
<rect x="729.27" y="281.42" width="2.45" height="8.55" fill="#ffffff" stroke="#7c7c7c" stroke-width="1.05" />
<line x1="734.7" y1="246.5" x2="734.7" y2="285.8" stroke="#8a8a8a" stroke-width="1" />
<rect x="733.48" y="252.93" width="2.45" height="26.15" fill="#ffffff" stroke="#7c7c7c" stroke-width="1.05" />
<line x1="736.95" y1="252.4" x2="740.85" y2="252.4" stroke="#8a8a8a" stroke-width="1" />
<line x1="743.1" y1="259.4" x2="743.1" y2="306.8" stroke="#6a6a6a" stroke-width="1" />
<rect x="741.35" y="260.8" width="3.5" height="41.8" fill="#555555" />
<line x1="747.3" y1="296.9" x2="747.3" y2="328" stroke="#6a6a6a" stroke-width="1" />
<rect x="745.55" y="299.7" width="3.5" height="16.9" fill="#555555" />
<line x1="751.5" y1="258.6" x2="751.5" y2="314" stroke="#8a8a8a" stroke-width="1" />
<rect x="750.27" y="263.82" width="2.45" height="48.55" fill="#ffffff" stroke="#7c7c7c" stroke-width="1.05" />
<line x1="755.7" y1="244" x2="755.7" y2="279.9" stroke="#707070" stroke-width="1" />
<line x1="753.95" y1="261.9" x2="757.45" y2="261.9" stroke="#707070" stroke-width="1" />
<line x1="759.9" y1="201.6" x2="759.9" y2="267.3" stroke="#8a8a8a" stroke-width="1" />
<rect x="758.67" y="202.12" width="2.45" height="52.55" fill="#ffffff" stroke="#7c7c7c" stroke-width="1.05" />
<line x1="764.1" y1="186.1" x2="764.1" y2="222.9" stroke="#6a6a6a" stroke-width="1" />
<rect x="762.35" y="202.1" width="3.5" height="1.7" fill="#555555" />
<line x1="768.3" y1="182.3" x2="768.3" y2="207.1" stroke="#8a8a8a" stroke-width="1" />
<rect x="767.07" y="192.03" width="2.45" height="12.45" fill="#ffffff" stroke="#7c7c7c" stroke-width="1.05" />
<line x1="772.5" y1="188.7" x2="772.5" y2="230.7" stroke="#6a6a6a" stroke-width="1" />
<rect x="770.75" y="189.3" width="3.5" height="27.4" fill="#555555" />
<line x1="776.7" y1="194.9" x2="776.7" y2="238.4" stroke="#8a8a8a" stroke-width="1" />
<rect x="775.48" y="202.12" width="2.45" height="17.95" fill="#ffffff" stroke="#7c7c7c" stroke-width="1.05" />
<line x1="780.9" y1="171.8" x2="780.9" y2="207.5" stroke="#8a8a8a" stroke-width="1" />
<rect x="779.67" y="186.12" width="2.45" height="3.65" fill="#ffffff" stroke="#7c7c7c" stroke-width="1.05"  rx="1.2"/>
<line x1="785.1" y1="156.2" x2="785.1" y2="204.1" stroke="#6a6a6a" stroke-width="1" />
<rect x="783.35" y="194" width="3.5" height="8.8" fill="#555555" />
<line x1="789.3" y1="194.9" x2="789.3" y2="242.1" stroke="#8a8a8a" stroke-width="1" />
<rect x="788.07" y="200.43" width="2.45" height="3.65" fill="#ffffff" stroke="#7c7c7c" stroke-width="1.05"  rx="1.2"/>
<line x1="793.5" y1="191.2" x2="793.5" y2="231.3" stroke="#6a6a6a" stroke-width="1" />
<rect x="791.75" y="204.6" width="3.5" height="11.3" fill="#555555" />
<line x1="797.7" y1="157.6" x2="797.7" y2="241.4" stroke="#8a8a8a" stroke-width="1" />
<rect x="796.48" y="158.12" width="2.45" height="55.85" fill="#ffffff" stroke="#7c7c7c" stroke-width="1.05" />
<line x1="801.9" y1="190.7" x2="801.9" y2="225.1" stroke="#6a6a6a" stroke-width="1" />
<rect x="800.15" y="205.3" width="3.5" height="14.8" fill="#555555" />
<line x1="806.1" y1="190.3" x2="806.1" y2="238.4" stroke="#6a6a6a" stroke-width="1" />
<rect x="804.35" y="218.9" width="3.5" height="19.5" fill="#555555" />
<line x1="810.3" y1="103.4" x2="810.3" y2="251" stroke="#8a8a8a" stroke-width="1" />
<rect x="809.07" y="140.83" width="2.45" height="109.65" fill="#ffffff" stroke="#7c7c7c" stroke-width="1.05" />
<line x1="814.5" y1="127.3" x2="814.5" y2="192.4" stroke="#6a6a6a" stroke-width="1" />
<rect x="812.75" y="152" width="3.5" height="33.1" fill="#555555" />
<line x1="818.7" y1="173" x2="818.7" y2="227.1" stroke="#6a6a6a" stroke-width="1" />
<rect x="816.95" y="180.3" width="3.5" height="38.4" fill="#555555" />
<line x1="820.95" y1="218.7" x2="824.85" y2="218.7" stroke="#8a8a8a" stroke-width="1" />
<line x1="827.1" y1="153.4" x2="827.1" y2="225.1" stroke="#8a8a8a" stroke-width="1" />
<rect x="825.87" y="164.62" width="2.45" height="53.55" fill="#ffffff" stroke="#7c7c7c" stroke-width="1.05" />
<line x1="831.3" y1="122.1" x2="831.3" y2="195.7" stroke="#8a8a8a" stroke-width="1" />
<rect x="830.07" y="126.03" width="2.45" height="35.05" fill="#ffffff" stroke="#7c7c7c" stroke-width="1.05" />
<line x1="835.5" y1="109.1" x2="835.5" y2="171.8" stroke="#6a6a6a" stroke-width="1" />
<rect x="833.75" y="127" width="3.5" height="26.5" fill="#555555" />
<line x1="839.7" y1="115.3" x2="839.7" y2="158.7" stroke="#8a8a8a" stroke-width="1" />
<rect x="838.48" y="136.83" width="2.45" height="9.95" fill="#ffffff" stroke="#7c7c7c" stroke-width="1.05" />
<line x1="843.9" y1="103.4" x2="843.9" y2="157.7" stroke="#6a6a6a" stroke-width="1" />
<rect x="842.15" y="133.2" width="3.5" height="7.3" fill="#555555" />
<line x1="848.1" y1="140.3" x2="848.1" y2="185.3" stroke="#6a6a6a" stroke-width="1" />
<rect x="846.35" y="143.1" width="3.5" height="12.6" fill="#555555" />
<line x1="852.3" y1="131" x2="852.3" y2="162.9" stroke="#8a8a8a" stroke-width="1" />
<rect x="850.97" y="147.73" width="2.65" height="3.05" fill="#ffffff" stroke="#7c7c7c" stroke-width="0.85"  rx="1.2"/>
<line x1="856.5" y1="131" x2="856.5" y2="163.6" stroke="#8a8a8a" stroke-width="1" />
<rect x="855.17" y="145.73" width="2.65" height="2.85" fill="#ffffff" stroke="#7c7c7c" stroke-width="0.85"  rx="1.2"/>
<line x1="860.7" y1="136.6" x2="860.7" y2="164.3" stroke="#6a6a6a" stroke-width="1" />
<rect x="858.95" y="146.3" width="3.5" height="6.6" fill="#555555" />
<line x1="864.9" y1="174.5" x2="864.9" y2="234" stroke="#6a6a6a" stroke-width="1" />
<rect x="863.15" y="185.1" width="3.5" height="35.4" fill="#555555" />
<line x1="869.1" y1="199.4" x2="869.1" y2="225.5" stroke="#8a8a8a" stroke-width="1" />
<rect x="867.87" y="212.93" width="2.45" height="6.45" fill="#ffffff" stroke="#7c7c7c" stroke-width="1.05" />
<line x1="873.3" y1="210.3" x2="873.3" y2="253.5" stroke="#6a6a6a" stroke-width="1" />
<rect x="871.55" y="214.5" width="3.5" height="21.6" fill="#555555" />
<line x1="875.55" y1="236.1" x2="879.45" y2="236.1" stroke="#8a8a8a" stroke-width="1" />
<line x1="881.7" y1="236.1" x2="881.7" y2="281.2" stroke="#6a6a6a" stroke-width="1" />
<rect x="879.95" y="236.1" width="3.5" height="44.1" fill="#555555" />
<line x1="885.9" y1="251.4" x2="885.9" y2="291.2" stroke="#6a6a6a" stroke-width="1" />
<rect x="884.15" y="264.2" width="3.5" height="15.3" fill="#555555" />
<line x1="890.1" y1="249.4" x2="890.1" y2="290.4" stroke="#8a8a8a" stroke-width="1" />
<rect x="888.87" y="257.82" width="2.45" height="18.85" fill="#c8c8c8" stroke="#7c7c7c" stroke-width="1.05" />
<line x1="894.3" y1="230.2" x2="894.3" y2="291.4" stroke="#6a6a6a" stroke-width="1" />
<rect x="892.55" y="253.7" width="3.5" height="35.6" fill="#555555" />
<line x1="898.5" y1="270.3" x2="898.5" y2="299.3" stroke="#6a6a6a" stroke-width="1" />
<rect x="896.75" y="284.1" width="3.5" height="10.7" fill="#555555" />
<line x1="902.7" y1="284.4" x2="902.7" y2="312.8" stroke="#707070" stroke-width="1" />
<line x1="900.95" y1="293.3" x2="904.45" y2="293.3" stroke="#707070" stroke-width="1" />
<line x1="906.9" y1="262.5" x2="906.9" y2="303.4" stroke="#8a8a8a" stroke-width="1" />
<rect x="905.67" y="265.92" width="2.45" height="24.95" fill="#ffffff" stroke="#7c7c7c" stroke-width="1.05" />
<line x1="911.1" y1="238.9" x2="911.1" y2="272.6" stroke="#8a8a8a" stroke-width="1" />
<rect x="909.87" y="247.33" width="2.45" height="19.35" fill="#ffffff" stroke="#7c7c7c" stroke-width="1.05" />
<line x1="915.3" y1="210.3" x2="915.3" y2="255" stroke="#8a8a8a" stroke-width="1" />
<rect x="914.07" y="212.03" width="2.45" height="36.75" fill="#ffffff" stroke="#7c7c7c" stroke-width="1.05" />
<line x1="919.5" y1="170.1" x2="919.5" y2="217.4" stroke="#8a8a8a" stroke-width="1" />
<rect x="918.27" y="178.12" width="2.45" height="36.75" fill="#ffffff" stroke="#7c7c7c" stroke-width="1.05" />
<line x1="923.7" y1="133.9" x2="923.7" y2="184.3" stroke="#8a8a8a" stroke-width="1" />
<rect x="922.48" y="145.93" width="2.45" height="31.45" fill="#ffffff" stroke="#7c7c7c" stroke-width="1.05" />
<line x1="927.9" y1="131.9" x2="927.9" y2="160.8" stroke="#8a8a8a" stroke-width="1" />
<rect x="926.57" y="146.53" width="2.65" height="2.95" fill="#ffffff" stroke="#7c7c7c" stroke-width="0.85"  rx="1.2"/>
<line x1="932.1" y1="126.9" x2="932.1" y2="166.2" stroke="#6a6a6a" stroke-width="1" />
<rect x="930.35" y="147.4" width="3.5" height="4.7" fill="#555555" />
<line x1="936.3" y1="99" x2="936.3" y2="163.4" stroke="#8a8a8a" stroke-width="1" />
<rect x="935.07" y="104.23" width="2.45" height="50.75" fill="#ffffff" stroke="#7c7c7c" stroke-width="1.05" />
<line x1="940.5" y1="48.9" x2="940.5" y2="108.7" stroke="#8a8a8a" stroke-width="1" />
<rect x="939.27" y="70.93" width="2.45" height="31.95" fill="#ffffff" stroke="#7c7c7c" stroke-width="1.05" />
<line x1="944.7" y1="61.8" x2="944.7" y2="102" stroke="#6a6a6a" stroke-width="1" />
<rect x="942.95" y="74.5" width="3.5" height="3.9" fill="#555555" />
<line x1="948.9" y1="42.7" x2="948.9" y2="80.8" stroke="#8a8a8a" stroke-width="1" />
<rect x="947.67" y="48.92" width="2.45" height="27.95" fill="#ffffff" stroke="#7c7c7c" stroke-width="1.05" />
<line x1="953.1" y1="48.9" x2="953.1" y2="55.2" stroke="#6a6a6a" stroke-width="1" />
<rect x="951.35" y="48.9" width="3.5" height="6.3" fill="#555555" />
<line x1="955.35" y1="55.5" x2="959.25" y2="55.5" stroke="#8a8a8a" stroke-width="1" />
<line x1="961.5" y1="24.1" x2="961.5" y2="60.6" stroke="#707070" stroke-width="1" />
<line x1="959.75" y1="51.2" x2="963.25" y2="51.2" stroke="#707070" stroke-width="1" />
<line x1="965.7" y1="21.3" x2="965.7" y2="58" stroke="#8a8a8a" stroke-width="1" />
<rect x="964.48" y="24.32" width="2.45" height="26.65" fill="#ffffff" stroke="#7c7c7c" stroke-width="1.05" />
<line x1="969.9" y1="20.5" x2="969.9" y2="61.9" stroke="#6a6a6a" stroke-width="1" />
<rect x="968.15" y="20.5" width="3.5" height="41.4" fill="#555555" />
<line x1="974.1" y1="71" x2="974.1" y2="81.7" stroke="#707070" stroke-width="1" />
<line x1="972.35" y1="74.3" x2="975.85" y2="74.3" stroke="#707070" stroke-width="1" />
<line x1="781" y1="103.4" x2="984" y2="103.4" stroke="#777777" stroke-width="1" />
<line x1="890" y1="59.6" x2="984.8" y2="59.6" stroke="#777777" stroke-width="1" />
<polyline points="550.1,245.5 566.9,251.9 580.3,257.8 592.1,261.6 619,267.9 635.8,273.4 649.2,275.4 659.3,277.9 671.1,277.9 684.5,276.8 699.7,276.3 708.5,275.4 720,273.7 740.4,270.3 774,266.1 797.6,264.5 811,262.3 829.5,257.7 858,254.4 870,254 915.5,253.5 930.7,249 954.2,245.6 967.6,241.9 974.4,241.4" fill="none" stroke="#ff2222" stroke-width="1.35" stroke-linejoin="round" />
<text x="990.3" y="38.8" font-size="15.6" font-weight="bold" fill="#000000" textLength="52.8" lengthAdjust="spacingAndGlyphs" >4.8000</text>
<text x="990.3" y="94.8" font-size="15.6" font-weight="bold" fill="#000000" textLength="52.8" lengthAdjust="spacingAndGlyphs" >4.7000</text>
<text x="990.3" y="150.8" font-size="15.6" font-weight="bold" fill="#000000" textLength="52.8" lengthAdjust="spacingAndGlyphs" >4.6000</text>
<text x="990.3" y="178.8" font-size="15.6" font-weight="bold" fill="#000000" textLength="52.8" lengthAdjust="spacingAndGlyphs" >4.5500</text>
<text x="990.3" y="206.8" font-size="15.6" font-weight="bold" fill="#000000" textLength="52.8" lengthAdjust="spacingAndGlyphs" >4.5000</text>
<text x="990.3" y="234.8" font-size="15.6" font-weight="bold" fill="#000000" textLength="52.8" lengthAdjust="spacingAndGlyphs" >4.4500</text>
<text x="990.3" y="290.8" font-size="15.6" font-weight="bold" fill="#000000" textLength="52.8" lengthAdjust="spacingAndGlyphs" >4.3500</text>
<text x="990.3" y="318.8" font-size="15.6" font-weight="bold" fill="#000000" textLength="52.8" lengthAdjust="spacingAndGlyphs" >4.3000</text>
<text x="990.3" y="346.8" font-size="15.6" font-weight="bold" fill="#000000" textLength="52.8" lengthAdjust="spacingAndGlyphs" >4.2500</text>
<text x="990.3" y="374.8" font-size="15.6" font-weight="bold" fill="#000000" textLength="52.8" lengthAdjust="spacingAndGlyphs" >4.2000</text>
<text x="990.3" y="402.8" font-size="15.6" font-weight="bold" fill="#000000" textLength="52.8" lengthAdjust="spacingAndGlyphs" >4.1500</text>
<text x="990.3" y="430.8" font-size="15.6" font-weight="bold" fill="#000000" textLength="52.8" lengthAdjust="spacingAndGlyphs" >4.1000</text>
<text x="990.3" y="458.8" font-size="15.6" font-weight="bold" fill="#000000" textLength="52.8" lengthAdjust="spacingAndGlyphs" >4.0500</text>
<text x="990.3" y="486.8" font-size="15.6" font-weight="bold" fill="#000000" textLength="52.8" lengthAdjust="spacingAndGlyphs" >4.0000</text>
<text x="990.3" y="514.8" font-size="15.6" font-weight="bold" fill="#000000" textLength="52.8" lengthAdjust="spacingAndGlyphs" >3.9500</text>
<text x="990.3" y="542.8" font-size="15.6" font-weight="bold" fill="#000000" textLength="52.8" lengthAdjust="spacingAndGlyphs" >3.9000</text>
<rect x="989.4" y="46.7" width="55.8" height="18.2" fill="#505050" />
<text x="990.6" y="60.8" font-size="15.6" font-weight="bold" fill="#ffffff" textLength="52.6" lengthAdjust="spacingAndGlyphs" >4.7540</text>
<rect x="989.4" y="64.5" width="55.8" height="18.1" fill="#505050" />
<text x="990.6" y="78.6" font-size="15.6" font-weight="bold" fill="#ffffff" textLength="52.6" lengthAdjust="spacingAndGlyphs" >4.7275</text>
<rect x="989.4" y="94.1" width="55.8" height="18.1" fill="#505050" />
<text x="990.6" y="108.2" font-size="15.6" font-weight="bold" fill="#ffffff" textLength="52.6" lengthAdjust="spacingAndGlyphs" >4.6763</text>
<rect x="989.4" y="111.8" width="55.8" height="18.1" fill="#505050" />
<text x="990.6" y="125.9" font-size="15.6" font-weight="bold" fill="#ffffff" textLength="52.6" lengthAdjust="spacingAndGlyphs" >4.6758</text>
<rect x="989.4" y="231.4" width="55.8" height="18.4" fill="#ff2222" />
<text x="990.6" y="245.5" font-size="15.6" font-weight="bold" fill="#ffffff" textLength="52.6" lengthAdjust="spacingAndGlyphs" >4.4306</text>
<rect x="989.4" y="249.4" width="55.8" height="18.1" fill="#505050" />
<text x="990.6" y="263.5" font-size="15.6" font-weight="bold" fill="#ffffff" textLength="52.6" lengthAdjust="spacingAndGlyphs" >4.4224</text>
<path d="M980.6 74.3H984.2M982.8 72.9L984.4 74.3L982.8 75.7" fill="none" stroke="#888888" stroke-width="0.8"/>
<path d="M980.8 241.4H984.4M983 240L984.6 241.4L983 242.8" fill="none" stroke="#ff5555" stroke-width="0.8"/>
<rect x="797.4" y="94.5" width="65.2" height="24.8" rx="5" ry="5" fill="none" stroke="#000000" stroke-width="3" stroke-dasharray="8.2 3.1" stroke-dashoffset="0"/>
<rect x="977.3" y="93.2" width="74" height="42.8" rx="8" ry="8" fill="none" stroke="#000000" stroke-width="3" stroke-dasharray="8.2 3.1" stroke-dashoffset="0"/>
<rect x="952.5" y="14.6" width="31.1" height="52.4" rx="6" ry="6" fill="none" stroke="#ff0000" stroke-width="3" stroke-dasharray="8.4 2.8" stroke-dashoffset="0"/>
<text x="585.6" y="14.9" font-size="15.8" font-weight="bold" fill="#4f4fff" textLength="22.9" lengthAdjust="spacingAndGlyphs" >US</text>
<text x="618.4" y="14.9" font-size="15.8" font-weight="bold" fill="#4f4fff" textLength="62.4" lengthAdjust="spacingAndGlyphs" >Generic</text>
<text x="690.4" y="14.9" font-size="15.8" font-weight="bold" fill="#4f4fff" textLength="38.7" lengthAdjust="spacingAndGlyphs" >Govt</text>
<text x="738.9" y="14.9" font-size="15.8" font-weight="bold" fill="#4f4fff" textLength="18.4" lengthAdjust="spacingAndGlyphs" >30</text>
<text x="768.4" y="14.9" font-size="15.8" font-weight="bold" fill="#4f4fff" textLength="17.3" lengthAdjust="spacingAndGlyphs" >Yr</text>
<text x="794.4" y="14.9" font-size="15.8" font-weight="bold" fill="#4f4fff" textLength="152.5" lengthAdjust="spacingAndGlyphs" >(USGG30YR'Index)</text>
<rect x="541" y="568.3" width="526.2" height="2.2" fill="#000000" />
<rect x="540.7" y="568.6" width="1.6" height="171" fill="#000000" />
<rect x="541" y="737.6" width="526.2" height="2" fill="#000000" />
<rect x="542.3" y="570.4" width="1.2" height="142.3" fill="#666666" />
<line x1="985.3" y1="711.76" x2="988" y2="711.76" stroke="#444444" stroke-width="1.1" />
<line x1="543.4" y1="711.76" x2="547" y2="711.76" stroke="#333333" stroke-width="1.2" />
<line x1="986.4" y1="708.98" x2="988" y2="708.98" stroke="#444444" stroke-width="0.9" />
<line x1="543.4" y1="708.98" x2="545.7" y2="708.98" stroke="#333333" stroke-width="1" />
<line x1="986.4" y1="706.19" x2="988" y2="706.19" stroke="#444444" stroke-width="0.9" />
<line x1="543.4" y1="706.19" x2="545.7" y2="706.19" stroke="#333333" stroke-width="1" />
<line x1="986.4" y1="703.41" x2="988" y2="703.41" stroke="#444444" stroke-width="0.9" />
<line x1="543.4" y1="703.41" x2="545.7" y2="703.41" stroke="#333333" stroke-width="1" />
<line x1="986.4" y1="700.62" x2="988" y2="700.62" stroke="#444444" stroke-width="0.9" />
<line x1="543.4" y1="700.62" x2="545.7" y2="700.62" stroke="#333333" stroke-width="1" />
<line x1="985.3" y1="697.84" x2="988" y2="697.84" stroke="#444444" stroke-width="1.1" />
<line x1="543.4" y1="697.84" x2="547" y2="697.84" stroke="#333333" stroke-width="1.2" />
<line x1="986.4" y1="695.06" x2="988" y2="695.06" stroke="#444444" stroke-width="0.9" />
<line x1="543.4" y1="695.06" x2="545.7" y2="695.06" stroke="#333333" stroke-width="1" />
<line x1="986.4" y1="692.27" x2="988" y2="692.27" stroke="#444444" stroke-width="0.9" />
<line x1="543.4" y1="692.27" x2="545.7" y2="692.27" stroke="#333333" stroke-width="1" />
<line x1="986.4" y1="689.49" x2="988" y2="689.49" stroke="#444444" stroke-width="0.9" />
<line x1="543.4" y1="689.49" x2="545.7" y2="689.49" stroke="#333333" stroke-width="1" />
<line x1="986.4" y1="686.7" x2="988" y2="686.7" stroke="#444444" stroke-width="0.9" />
<line x1="543.4" y1="686.7" x2="545.7" y2="686.7" stroke="#333333" stroke-width="1" />
<line x1="985.3" y1="683.92" x2="988" y2="683.92" stroke="#444444" stroke-width="1.1" />
<line x1="543.4" y1="683.92" x2="547" y2="683.92" stroke="#333333" stroke-width="1.2" />
<line x1="986.4" y1="681.14" x2="988" y2="681.14" stroke="#444444" stroke-width="0.9" />
<line x1="543.4" y1="681.14" x2="545.7" y2="681.14" stroke="#333333" stroke-width="1" />
<line x1="986.4" y1="678.35" x2="988" y2="678.35" stroke="#444444" stroke-width="0.9" />
<line x1="543.4" y1="678.35" x2="545.7" y2="678.35" stroke="#333333" stroke-width="1" />
<line x1="986.4" y1="675.57" x2="988" y2="675.57" stroke="#444444" stroke-width="0.9" />
<line x1="543.4" y1="675.57" x2="545.7" y2="675.57" stroke="#333333" stroke-width="1" />
<line x1="986.4" y1="672.78" x2="988" y2="672.78" stroke="#444444" stroke-width="0.9" />
<line x1="543.4" y1="672.78" x2="545.7" y2="672.78" stroke="#333333" stroke-width="1" />
<line x1="985.3" y1="670" x2="988" y2="670" stroke="#444444" stroke-width="1.1" />
<line x1="543.4" y1="670" x2="547" y2="670" stroke="#333333" stroke-width="1.2" />
<line x1="986.4" y1="667.22" x2="988" y2="667.22" stroke="#444444" stroke-width="0.9" />
<line x1="543.4" y1="667.22" x2="545.7" y2="667.22" stroke="#333333" stroke-width="1" />
<line x1="986.4" y1="664.43" x2="988" y2="664.43" stroke="#444444" stroke-width="0.9" />
<line x1="543.4" y1="664.43" x2="545.7" y2="664.43" stroke="#333333" stroke-width="1" />
<line x1="986.4" y1="661.65" x2="988" y2="661.65" stroke="#444444" stroke-width="0.9" />
<line x1="543.4" y1="661.65" x2="545.7" y2="661.65" stroke="#333333" stroke-width="1" />
<line x1="986.4" y1="658.86" x2="988" y2="658.86" stroke="#444444" stroke-width="0.9" />
<line x1="543.4" y1="658.86" x2="545.7" y2="658.86" stroke="#333333" stroke-width="1" />
<line x1="985.3" y1="656.08" x2="988" y2="656.08" stroke="#444444" stroke-width="1.1" />
<line x1="543.4" y1="656.08" x2="547" y2="656.08" stroke="#333333" stroke-width="1.2" />
<line x1="986.4" y1="653.3" x2="988" y2="653.3" stroke="#444444" stroke-width="0.9" />
<line x1="543.4" y1="653.3" x2="545.7" y2="653.3" stroke="#333333" stroke-width="1" />
<line x1="986.4" y1="650.51" x2="988" y2="650.51" stroke="#444444" stroke-width="0.9" />
<line x1="543.4" y1="650.51" x2="545.7" y2="650.51" stroke="#333333" stroke-width="1" />
<line x1="986.4" y1="647.73" x2="988" y2="647.73" stroke="#444444" stroke-width="0.9" />
<line x1="543.4" y1="647.73" x2="545.7" y2="647.73" stroke="#333333" stroke-width="1" />
<line x1="986.4" y1="644.94" x2="988" y2="644.94" stroke="#444444" stroke-width="0.9" />
<line x1="543.4" y1="644.94" x2="545.7" y2="644.94" stroke="#333333" stroke-width="1" />
<line x1="985.3" y1="642.16" x2="988" y2="642.16" stroke="#444444" stroke-width="1.1" />
<line x1="543.4" y1="642.16" x2="547" y2="642.16" stroke="#333333" stroke-width="1.2" />
<line x1="986.4" y1="639.38" x2="988" y2="639.38" stroke="#444444" stroke-width="0.9" />
<line x1="543.4" y1="639.38" x2="545.7" y2="639.38" stroke="#333333" stroke-width="1" />
<line x1="986.4" y1="636.59" x2="988" y2="636.59" stroke="#444444" stroke-width="0.9" />
<line x1="543.4" y1="636.59" x2="545.7" y2="636.59" stroke="#333333" stroke-width="1" />
<line x1="986.4" y1="633.81" x2="988" y2="633.81" stroke="#444444" stroke-width="0.9" />
<line x1="543.4" y1="633.81" x2="545.7" y2="633.81" stroke="#333333" stroke-width="1" />
<line x1="986.4" y1="631.02" x2="988" y2="631.02" stroke="#444444" stroke-width="0.9" />
<line x1="543.4" y1="631.02" x2="545.7" y2="631.02" stroke="#333333" stroke-width="1" />
<line x1="985.3" y1="628.24" x2="988" y2="628.24" stroke="#444444" stroke-width="1.1" />
<line x1="543.4" y1="628.24" x2="547" y2="628.24" stroke="#333333" stroke-width="1.2" />
<line x1="986.4" y1="625.46" x2="988" y2="625.46" stroke="#444444" stroke-width="0.9" />
<line x1="543.4" y1="625.46" x2="545.7" y2="625.46" stroke="#333333" stroke-width="1" />
<line x1="986.4" y1="622.67" x2="988" y2="622.67" stroke="#444444" stroke-width="0.9" />
<line x1="543.4" y1="622.67" x2="545.7" y2="622.67" stroke="#333333" stroke-width="1" />
<line x1="986.4" y1="619.89" x2="988" y2="619.89" stroke="#444444" stroke-width="0.9" />
<line x1="543.4" y1="619.89" x2="545.7" y2="619.89" stroke="#333333" stroke-width="1" />
<line x1="986.4" y1="617.1" x2="988" y2="617.1" stroke="#444444" stroke-width="0.9" />
<line x1="543.4" y1="617.1" x2="545.7" y2="617.1" stroke="#333333" stroke-width="1" />
<line x1="985.3" y1="614.32" x2="988" y2="614.32" stroke="#444444" stroke-width="1.1" />
<line x1="543.4" y1="614.32" x2="547" y2="614.32" stroke="#333333" stroke-width="1.2" />
<line x1="986.4" y1="611.54" x2="988" y2="611.54" stroke="#444444" stroke-width="0.9" />
<line x1="543.4" y1="611.54" x2="545.7" y2="611.54" stroke="#333333" stroke-width="1" />
<line x1="986.4" y1="608.75" x2="988" y2="608.75" stroke="#444444" stroke-width="0.9" />
<line x1="543.4" y1="608.75" x2="545.7" y2="608.75" stroke="#333333" stroke-width="1" />
<line x1="986.4" y1="605.97" x2="988" y2="605.97" stroke="#444444" stroke-width="0.9" />
<line x1="543.4" y1="605.97" x2="545.7" y2="605.97" stroke="#333333" stroke-width="1" />
<line x1="986.4" y1="603.18" x2="988" y2="603.18" stroke="#444444" stroke-width="0.9" />
<line x1="543.4" y1="603.18" x2="545.7" y2="603.18" stroke="#333333" stroke-width="1" />
<line x1="985.3" y1="600.4" x2="988" y2="600.4" stroke="#444444" stroke-width="1.1" />
<line x1="543.4" y1="600.4" x2="547" y2="600.4" stroke="#333333" stroke-width="1.2" />
<line x1="986.4" y1="597.62" x2="988" y2="597.62" stroke="#444444" stroke-width="0.9" />
<line x1="543.4" y1="597.62" x2="545.7" y2="597.62" stroke="#333333" stroke-width="1" />
<line x1="986.4" y1="594.83" x2="988" y2="594.83" stroke="#444444" stroke-width="0.9" />
<line x1="543.4" y1="594.83" x2="545.7" y2="594.83" stroke="#333333" stroke-width="1" />
<line x1="986.4" y1="592.05" x2="988" y2="592.05" stroke="#444444" stroke-width="0.9" />
<line x1="543.4" y1="592.05" x2="545.7" y2="592.05" stroke="#333333" stroke-width="1" />
<line x1="986.4" y1="589.26" x2="988" y2="589.26" stroke="#444444" stroke-width="0.9" />
<line x1="543.4" y1="589.26" x2="545.7" y2="589.26" stroke="#333333" stroke-width="1" />
<line x1="985.3" y1="586.48" x2="988" y2="586.48" stroke="#444444" stroke-width="1.1" />
<line x1="543.4" y1="586.48" x2="547" y2="586.48" stroke="#333333" stroke-width="1.2" />
<line x1="986.4" y1="583.7" x2="988" y2="583.7" stroke="#444444" stroke-width="0.9" />
<line x1="543.4" y1="583.7" x2="545.7" y2="583.7" stroke="#333333" stroke-width="1" />
<line x1="986.4" y1="580.91" x2="988" y2="580.91" stroke="#444444" stroke-width="0.9" />
<line x1="543.4" y1="580.91" x2="545.7" y2="580.91" stroke="#333333" stroke-width="1" />
<line x1="986.4" y1="578.13" x2="988" y2="578.13" stroke="#444444" stroke-width="0.9" />
<line x1="543.4" y1="578.13" x2="545.7" y2="578.13" stroke="#333333" stroke-width="1" />
<line x1="986.4" y1="575.34" x2="988" y2="575.34" stroke="#444444" stroke-width="0.9" />
<line x1="543.4" y1="575.34" x2="545.7" y2="575.34" stroke="#333333" stroke-width="1" />
<line x1="985.3" y1="572.56" x2="988" y2="572.56" stroke="#444444" stroke-width="1.1" />
<line x1="543.4" y1="572.56" x2="547" y2="572.56" stroke="#333333" stroke-width="1.2" />
<rect x="988" y="570.6" width="1.1" height="167" fill="#555555" />
<text x="990.8" y="633.74" font-size="16.3" font-weight="bold" fill="#000000" textLength="18.3" lengthAdjust="spacingAndGlyphs" >60</text>
<text x="990.8" y="661.58" font-size="16.3" font-weight="bold" fill="#000000" textLength="18.3" lengthAdjust="spacingAndGlyphs" >40</text>
<text x="990.8" y="689.42" font-size="16.3" font-weight="bold" fill="#000000" textLength="18.3" lengthAdjust="spacingAndGlyphs" >20</text>
<polyline points="549.9,648.11 554.1,648.11 558.3,649.45 562.5,645.25 566.7,657.35 570.9,670.8 575.1,683.07 579.3,685.42 583.5,674.5 587.7,674.16 591.9,669.96 596.1,665.76 600.3,651.47 604.5,634.66 608.7,621.22 612.9,613.32 617.1,630.46 621.3,655.67 625.5,672.98 629.7,675 633.9,679.2 638.1,687.61 642.3,689.29 646.5,685.92 650.7,686.26 654.9,693.15 659.1,681.72 663.3,655.67 667.5,637.18 671.7,617.02 675.9,609.96 680.1,609.45 684.3,599.37 688.5,596.34 692.7,598.03 696.9,600.21 701.1,619.03 705.3,616.18 709.5,605.25 713.7,597.69 717.9,590.97 722.1,590.97 726.3,587.1 730.5,586.76 734.7,584.24 738.9,581.72 743.1,596.01 747.3,609.79 751.5,605.25 755.7,604.92 759.9,594.33 764.1,592.31 768.3,589.62 772.5,593.49 776.7,592.98 780.9,590.63 785.1,597.69 789.3,606.09 793.5,619.54 797.7,606.09 801.9,628.78 806.1,654.5 810.3,638.87 814.5,642.56 818.7,653.66 822.9,664.41 827.1,651.47 831.3,633.49 835.5,629.62 839.7,621.22 843.9,615.67 848.1,620.71 852.3,620.71 856.5,621.22 860.7,624.08 864.9,648.11 869.1,662.39 873.3,673.32 877.5,681.72 881.7,690.97 885.9,694.66 890.1,690.63 894.3,695.17 898.5,699.03 902.7,695.17 906.9,675.84 911.1,648.95 915.3,625.42 919.5,609.96 923.7,601.05 927.9,596.01 932.1,594.33 936.3,587.61 940.5,586.43 944.7,587.1 948.9,583.07 953.1,586.43 957.3,590.46 961.5,593.15 965.7,587.1 969.9,596.01 974.1,616.18" fill="none" stroke="#5252ff" stroke-width="1.3" stroke-linejoin="round" />
<polyline points="549.9,658.19 554.1,654.83 558.3,653.15 562.5,651.13 566.7,652.31 570.9,658.19 575.1,666.6 579.3,672.98 583.5,673.32 587.7,673.32 591.9,672.48 596.1,670.46 600.3,664.92 604.5,655.67 608.7,643.91 612.9,633.49 617.1,632.65 621.3,641.39 625.5,651.47 629.7,659.87 633.9,666.6 638.1,673.32 642.3,678.87 646.5,681.22 650.7,682.9 654.9,685.92 659.1,685.08 663.3,675.84 667.5,662.39 671.7,646.43 675.9,633.82 680.1,625.08 684.3,616.51 688.5,609.45 692.7,606.09 696.9,603.91 701.1,607.77 705.3,611.13 709.5,609.45 713.7,606.09 717.9,600.55 722.1,597.18 726.3,593.99 730.5,591.81 734.7,589.29 738.9,587.27 743.1,589.29 747.3,596.01 751.5,598.53 755.7,600.55 759.9,598.53 764.1,596.34 768.3,593.82 772.5,593.49 776.7,593.49 780.9,592.98 785.1,594.66 789.3,597.69 793.5,604.75 797.7,605.25 801.9,613.66 806.1,626.76 810.3,631.3 814.5,635.17 818.7,642.23 822.9,648.95 827.1,650.29 831.3,644.75 835.5,639.2 839.7,633.32 843.9,627.94 848.1,625.42 852.3,624.08 856.5,623.4 860.7,624.08 864.9,632.14 869.1,643.07 873.3,653.99 877.5,663.24 881.7,672.48 885.9,679.54 890.1,682.56 894.3,687.27 898.5,691.3 902.7,692.98 906.9,686.76 911.1,672.48 915.3,653.99 919.5,637.18 923.7,623.74 927.9,614.5 932.1,606.93 936.3,600.55 940.5,596.51 944.7,593.49 948.9,590.46 953.1,589.79 957.3,590.46 961.5,591.3 965.7,590.13 969.9,592.14 974.1,600.21" fill="none" stroke="#ff2222" stroke-width="1.4" stroke-linejoin="round" />
<rect x="989" y="589.3" width="46.6" height="17.6" fill="#ff2222" />
<text x="990.4" y="603.5" font-size="15.5" font-weight="bold" fill="#ffffff" textLength="43.8" lengthAdjust="spacingAndGlyphs" >80.10</text>
<rect x="989" y="606.9" width="46.6" height="17.7" fill="#5252ff" />
<text x="990.4" y="621.8" font-size="15.5" font-weight="bold" fill="#ffffff" textLength="43.8" lengthAdjust="spacingAndGlyphs" >68.31</text>
<rect x="918.6" y="569.5" width="64.7" height="60.5" rx="8" ry="8" fill="none" stroke="#ff0000" stroke-width="3" stroke-dasharray="8.4 2.8" stroke-dashoffset="0"/>
<text x="697.8" y="584.2" font-size="15.8" font-weight="bold" fill="#4f4fff" textLength="39.2" lengthAdjust="spacingAndGlyphs" >Slow</text>
<text x="747.4" y="584.2" font-size="15.8" font-weight="bold" fill="#4f4fff" textLength="84.2" lengthAdjust="spacingAndGlyphs" >Stochastic</text>
<rect x="543" y="712.1" width="446" height="1.1" fill="#444444" />
<rect x="544" y="725" width="445" height="1.1" fill="#444444" />
<rect x="570.4" y="712.6" width="1" height="13" fill="#444444" />
<text x="572.5" y="724" font-size="12" font-weight="bold" fill="#000000" >8/19</text>
<rect x="612.4" y="712.6" width="1" height="13" fill="#444444" />
<text x="614.5" y="724" font-size="12" font-weight="bold" fill="#000000" >9/2</text>
<rect x="654.4" y="712.6" width="1" height="13" fill="#444444" />
<text x="656.5" y="724" font-size="12" font-weight="bold" fill="#000000" >9/16</text>
<rect x="700.6" y="712.6" width="1" height="13" fill="#444444" />
<text x="702.7" y="724" font-size="12" font-weight="bold" fill="#000000" >10/1</text>
<rect x="738.4" y="712.6" width="1" height="13" fill="#444444" />
<text x="740.5" y="724" font-size="12" font-weight="bold" fill="#000000" >10/14</text>
<rect x="797.2" y="712.6" width="1" height="13" fill="#444444" />
<text x="799.3" y="724" font-size="12" font-weight="bold" fill="#000000" >11/1</text>
<rect x="843.4" y="712.6" width="1" height="13" fill="#444444" />
<text x="845.5" y="724" font-size="12" font-weight="bold" fill="#000000" >11/18</text>
<rect x="885.4" y="712.6" width="1" height="13" fill="#444444" />
<text x="887.5" y="724" font-size="12" font-weight="bold" fill="#000000" >12/2</text>
<rect x="927.4" y="712.6" width="1" height="13" fill="#444444" />
<text x="929.5" y="724" font-size="12" font-weight="bold" fill="#000000" >12/16</text>
<text x="550.6" y="735.7" font-size="12" font-weight="bold" fill="#000000" textLength="21" lengthAdjust="spacingAndGlyphs" >Aug</text>
<rect x="612.4" y="725.5" width="1" height="12.5" fill="#444444" />
<text x="614.5" y="735.7" font-size="12" font-weight="bold" fill="#000000" textLength="19.6" lengthAdjust="spacingAndGlyphs" >Sep</text>
<rect x="700.6" y="725.5" width="1" height="12.5" fill="#444444" />
<text x="702.7" y="735.7" font-size="12" font-weight="bold" fill="#000000" textLength="18.2" lengthAdjust="spacingAndGlyphs" >Oct</text>
<rect x="797.2" y="725.5" width="1" height="12.5" fill="#444444" />
<text x="799.3" y="735.7" font-size="12" font-weight="bold" fill="#000000" textLength="20" lengthAdjust="spacingAndGlyphs" >Nov</text>
<rect x="885.4" y="725.5" width="1" height="12.5" fill="#444444" />
<text x="887.5" y="735.7" font-size="12" font-weight="bold" fill="#000000" textLength="19.6" lengthAdjust="spacingAndGlyphs" >Dec</text>
<text x="1036.4" y="731.5" font-size="12" font-weight="bold" fill="#000000" textLength="20" lengthAdjust="spacingAndGlyphs" >Day</text>
</svg>
</body></html>
